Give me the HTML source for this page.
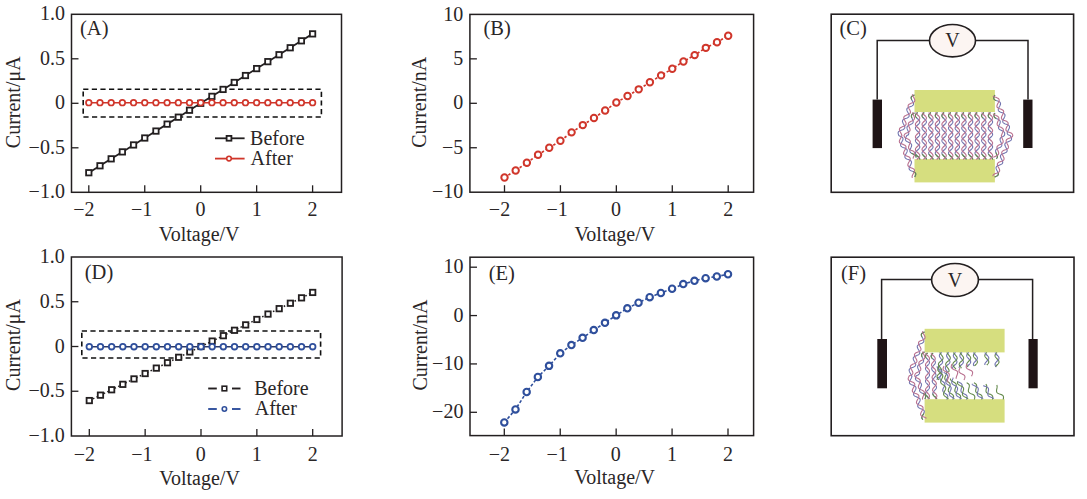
<!DOCTYPE html>
<html><head><meta charset="utf-8"><style>
html,body{margin:0;padding:0;background:#fff;}
svg{display:block;}
text{font-family:"Liberation Serif", serif; fill:#2a2627;}
</style></head><body>
<svg width="1087" height="499" viewBox="0 0 1087 499">
<rect x="71.50" y="14.30" width="270.00" height="178.00" fill="none" stroke="#231f20" stroke-width="1.5"/>
<line x1="88.80" y1="192.30" x2="88.80" y2="185.30" stroke="#231f20" stroke-width="1.3" />
<text x="83.80" y="216.00" text-anchor="middle" font-size="20" >−2</text>
<line x1="144.75" y1="192.30" x2="144.75" y2="185.30" stroke="#231f20" stroke-width="1.3" />
<text x="141.55" y="216.00" text-anchor="middle" font-size="20" >−1</text>
<line x1="200.70" y1="192.30" x2="200.70" y2="185.30" stroke="#231f20" stroke-width="1.3" />
<text x="200.40" y="216.00" text-anchor="middle" font-size="20" >0</text>
<line x1="256.65" y1="192.30" x2="256.65" y2="185.30" stroke="#231f20" stroke-width="1.3" />
<text x="256.65" y="216.00" text-anchor="middle" font-size="20" >1</text>
<line x1="312.60" y1="192.30" x2="312.60" y2="185.30" stroke="#231f20" stroke-width="1.3" />
<text x="312.60" y="216.00" text-anchor="middle" font-size="20" >2</text>
<text x="64.90" y="20.40" text-anchor="end" font-size="20" >1.0</text>
<line x1="71.50" y1="58.80" x2="78.50" y2="58.80" stroke="#231f20" stroke-width="1.3" />
<text x="64.90" y="64.90" text-anchor="end" font-size="20" >0.5</text>
<line x1="71.50" y1="103.30" x2="78.50" y2="103.30" stroke="#231f20" stroke-width="1.3" />
<text x="64.90" y="109.40" text-anchor="end" font-size="20" >0</text>
<line x1="71.50" y1="147.80" x2="78.50" y2="147.80" stroke="#231f20" stroke-width="1.3" />
<text x="64.90" y="153.90" text-anchor="end" font-size="20" >−0.5</text>
<text x="64.90" y="198.40" text-anchor="end" font-size="20" >−1.0</text>
<text x="199.20" y="240.80" text-anchor="middle" font-size="20" >Voltage/V</text>
<text x="0" y="0" transform="translate(19.80,102.30) rotate(-90)" text-anchor="middle" font-size="20">Current/μA</text>
<text x="80.00" y="35.40" text-anchor="start" font-size="20.5" >(A)</text>
<rect x="83.2" y="89.2" width="238.2" height="27.8" fill="none" stroke="#111" stroke-width="1.6" stroke-dasharray="5.2 3.4"/>
<polyline points="88.80,172.72 99.99,165.78 111.18,158.84 122.37,151.89 133.56,144.95 144.75,138.01 155.94,131.07 167.13,124.13 178.32,117.18 189.51,110.24 200.70,103.30 211.89,96.36 223.08,89.42 234.27,82.47 245.46,75.53 256.65,68.59 267.84,61.65 279.03,54.71 290.22,47.76 301.41,40.82 312.60,33.88" fill="none" stroke="#231f20" stroke-width="1.8"/>
<rect x="86.10" y="170.02" width="5.40" height="5.40" fill="#fff" stroke="#231f20" stroke-width="1.8"/>
<rect x="97.29" y="163.08" width="5.40" height="5.40" fill="#fff" stroke="#231f20" stroke-width="1.8"/>
<rect x="108.48" y="156.14" width="5.40" height="5.40" fill="#fff" stroke="#231f20" stroke-width="1.8"/>
<rect x="119.67" y="149.19" width="5.40" height="5.40" fill="#fff" stroke="#231f20" stroke-width="1.8"/>
<rect x="130.86" y="142.25" width="5.40" height="5.40" fill="#fff" stroke="#231f20" stroke-width="1.8"/>
<rect x="142.05" y="135.31" width="5.40" height="5.40" fill="#fff" stroke="#231f20" stroke-width="1.8"/>
<rect x="153.24" y="128.37" width="5.40" height="5.40" fill="#fff" stroke="#231f20" stroke-width="1.8"/>
<rect x="164.43" y="121.43" width="5.40" height="5.40" fill="#fff" stroke="#231f20" stroke-width="1.8"/>
<rect x="175.62" y="114.48" width="5.40" height="5.40" fill="#fff" stroke="#231f20" stroke-width="1.8"/>
<rect x="186.81" y="107.54" width="5.40" height="5.40" fill="#fff" stroke="#231f20" stroke-width="1.8"/>
<rect x="198.00" y="100.60" width="5.40" height="5.40" fill="#fff" stroke="#231f20" stroke-width="1.8"/>
<rect x="209.19" y="93.66" width="5.40" height="5.40" fill="#fff" stroke="#231f20" stroke-width="1.8"/>
<rect x="220.38" y="86.72" width="5.40" height="5.40" fill="#fff" stroke="#231f20" stroke-width="1.8"/>
<rect x="231.57" y="79.77" width="5.40" height="5.40" fill="#fff" stroke="#231f20" stroke-width="1.8"/>
<rect x="242.76" y="72.83" width="5.40" height="5.40" fill="#fff" stroke="#231f20" stroke-width="1.8"/>
<rect x="253.95" y="65.89" width="5.40" height="5.40" fill="#fff" stroke="#231f20" stroke-width="1.8"/>
<rect x="265.14" y="58.95" width="5.40" height="5.40" fill="#fff" stroke="#231f20" stroke-width="1.8"/>
<rect x="276.33" y="52.01" width="5.40" height="5.40" fill="#fff" stroke="#231f20" stroke-width="1.8"/>
<rect x="287.52" y="45.06" width="5.40" height="5.40" fill="#fff" stroke="#231f20" stroke-width="1.8"/>
<rect x="298.71" y="38.12" width="5.40" height="5.40" fill="#fff" stroke="#231f20" stroke-width="1.8"/>
<rect x="309.90" y="31.18" width="5.40" height="5.40" fill="#fff" stroke="#231f20" stroke-width="1.8"/>
<polyline points="88.80,102.68 99.99,102.68 111.18,102.68 122.37,102.68 133.56,102.68 144.75,102.68 155.94,102.68 167.13,102.68 178.32,102.68 189.51,102.68 200.70,102.68 211.89,102.68 223.08,102.68 234.27,102.68 245.46,102.68 256.65,102.68 267.84,102.68 279.03,102.68 290.22,102.68 301.41,102.68 312.60,102.68" fill="none" stroke="#d0362b" stroke-width="1.4"/>
<circle cx="88.80" cy="102.68" r="2.80" fill="#fff" stroke="#d0362b" stroke-width="1.7"/>
<circle cx="99.99" cy="102.68" r="2.80" fill="#fff" stroke="#d0362b" stroke-width="1.7"/>
<circle cx="111.18" cy="102.68" r="2.80" fill="#fff" stroke="#d0362b" stroke-width="1.7"/>
<circle cx="122.37" cy="102.68" r="2.80" fill="#fff" stroke="#d0362b" stroke-width="1.7"/>
<circle cx="133.56" cy="102.68" r="2.80" fill="#fff" stroke="#d0362b" stroke-width="1.7"/>
<circle cx="144.75" cy="102.68" r="2.80" fill="#fff" stroke="#d0362b" stroke-width="1.7"/>
<circle cx="155.94" cy="102.68" r="2.80" fill="#fff" stroke="#d0362b" stroke-width="1.7"/>
<circle cx="167.13" cy="102.68" r="2.80" fill="#fff" stroke="#d0362b" stroke-width="1.7"/>
<circle cx="178.32" cy="102.68" r="2.80" fill="#fff" stroke="#d0362b" stroke-width="1.7"/>
<circle cx="189.51" cy="102.68" r="2.80" fill="#fff" stroke="#d0362b" stroke-width="1.7"/>
<circle cx="200.70" cy="102.68" r="2.80" fill="#fff" stroke="#d0362b" stroke-width="1.7"/>
<circle cx="211.89" cy="102.68" r="2.80" fill="#fff" stroke="#d0362b" stroke-width="1.7"/>
<circle cx="223.08" cy="102.68" r="2.80" fill="#fff" stroke="#d0362b" stroke-width="1.7"/>
<circle cx="234.27" cy="102.68" r="2.80" fill="#fff" stroke="#d0362b" stroke-width="1.7"/>
<circle cx="245.46" cy="102.68" r="2.80" fill="#fff" stroke="#d0362b" stroke-width="1.7"/>
<circle cx="256.65" cy="102.68" r="2.80" fill="#fff" stroke="#d0362b" stroke-width="1.7"/>
<circle cx="267.84" cy="102.68" r="2.80" fill="#fff" stroke="#d0362b" stroke-width="1.7"/>
<circle cx="279.03" cy="102.68" r="2.80" fill="#fff" stroke="#d0362b" stroke-width="1.7"/>
<circle cx="290.22" cy="102.68" r="2.80" fill="#fff" stroke="#d0362b" stroke-width="1.7"/>
<circle cx="301.41" cy="102.68" r="2.80" fill="#fff" stroke="#d0362b" stroke-width="1.7"/>
<circle cx="312.60" cy="102.68" r="2.80" fill="#fff" stroke="#d0362b" stroke-width="1.7"/>
<line x1="215.00" y1="138.30" x2="244.60" y2="138.30" stroke="#231f20" stroke-width="1.8" />
<rect x="226.60" y="135.90" width="4.80" height="4.80" fill="#fff" stroke="#231f20" stroke-width="1.8"/>
<text x="250.10" y="144.50" text-anchor="start" font-size="20" >Before</text>
<line x1="215.00" y1="158.60" x2="244.60" y2="158.60" stroke="#d0362b" stroke-width="1.8" />
<circle cx="229.00" cy="158.60" r="2.30" fill="#fff" stroke="#d0362b" stroke-width="1.6"/>
<text x="250.60" y="164.60" text-anchor="start" font-size="20" >After</text>
<rect x="469.90" y="14.40" width="283.70" height="177.80" fill="none" stroke="#231f20" stroke-width="1.5"/>
<line x1="504.50" y1="192.20" x2="504.50" y2="185.20" stroke="#231f20" stroke-width="1.3" />
<text x="499.50" y="215.90" text-anchor="middle" font-size="20" >−2</text>
<line x1="560.42" y1="192.20" x2="560.42" y2="185.20" stroke="#231f20" stroke-width="1.3" />
<text x="557.22" y="215.90" text-anchor="middle" font-size="20" >−1</text>
<line x1="616.35" y1="192.20" x2="616.35" y2="185.20" stroke="#231f20" stroke-width="1.3" />
<text x="616.05" y="215.90" text-anchor="middle" font-size="20" >0</text>
<line x1="672.28" y1="192.20" x2="672.28" y2="185.20" stroke="#231f20" stroke-width="1.3" />
<text x="672.28" y="215.90" text-anchor="middle" font-size="20" >1</text>
<line x1="728.20" y1="192.20" x2="728.20" y2="185.20" stroke="#231f20" stroke-width="1.3" />
<text x="728.20" y="215.90" text-anchor="middle" font-size="20" >2</text>
<text x="463.30" y="20.50" text-anchor="end" font-size="20" >10</text>
<line x1="469.90" y1="58.85" x2="476.90" y2="58.85" stroke="#231f20" stroke-width="1.3" />
<text x="463.30" y="64.95" text-anchor="end" font-size="20" >5</text>
<line x1="469.90" y1="103.30" x2="476.90" y2="103.30" stroke="#231f20" stroke-width="1.3" />
<text x="463.30" y="109.40" text-anchor="end" font-size="20" >0</text>
<line x1="469.90" y1="147.75" x2="476.90" y2="147.75" stroke="#231f20" stroke-width="1.3" />
<text x="463.30" y="153.85" text-anchor="end" font-size="20" >−5</text>
<text x="463.30" y="198.30" text-anchor="end" font-size="20" >−10</text>
<text x="614.85" y="240.70" text-anchor="middle" font-size="20" >Voltage/V</text>
<text x="0" y="0" transform="translate(426.30,102.30) rotate(-90)" text-anchor="middle" font-size="20">Current/nA</text>
<text x="483.50" y="35.40" text-anchor="start" font-size="20.5" >(B)</text>
<polyline points="504.50,177.53 515.68,170.51 526.87,162.77 538.06,154.77 549.24,147.75 560.42,140.82 571.61,132.37 582.80,125.08 593.98,117.97 605.16,110.50 616.35,102.50 627.54,96.01 638.72,89.34 649.90,82.32 661.09,75.39 672.28,68.81 683.46,61.43 694.65,55.12 705.83,47.83 717.02,42.23 728.20,35.74" fill="none" stroke="#d0362b" stroke-width="1.7" stroke-dasharray="2.5 2"/>
<circle cx="504.50" cy="177.53" r="3.20" fill="#fff" stroke="#d0362b" stroke-width="2.0"/>
<circle cx="515.68" cy="170.51" r="3.20" fill="#fff" stroke="#d0362b" stroke-width="2.0"/>
<circle cx="526.87" cy="162.77" r="3.20" fill="#fff" stroke="#d0362b" stroke-width="2.0"/>
<circle cx="538.06" cy="154.77" r="3.20" fill="#fff" stroke="#d0362b" stroke-width="2.0"/>
<circle cx="549.24" cy="147.75" r="3.20" fill="#fff" stroke="#d0362b" stroke-width="2.0"/>
<circle cx="560.42" cy="140.82" r="3.20" fill="#fff" stroke="#d0362b" stroke-width="2.0"/>
<circle cx="571.61" cy="132.37" r="3.20" fill="#fff" stroke="#d0362b" stroke-width="2.0"/>
<circle cx="582.80" cy="125.08" r="3.20" fill="#fff" stroke="#d0362b" stroke-width="2.0"/>
<circle cx="593.98" cy="117.97" r="3.20" fill="#fff" stroke="#d0362b" stroke-width="2.0"/>
<circle cx="605.16" cy="110.50" r="3.20" fill="#fff" stroke="#d0362b" stroke-width="2.0"/>
<circle cx="616.35" cy="102.50" r="3.20" fill="#fff" stroke="#d0362b" stroke-width="2.0"/>
<circle cx="627.54" cy="96.01" r="3.20" fill="#fff" stroke="#d0362b" stroke-width="2.0"/>
<circle cx="638.72" cy="89.34" r="3.20" fill="#fff" stroke="#d0362b" stroke-width="2.0"/>
<circle cx="649.90" cy="82.32" r="3.20" fill="#fff" stroke="#d0362b" stroke-width="2.0"/>
<circle cx="661.09" cy="75.39" r="3.20" fill="#fff" stroke="#d0362b" stroke-width="2.0"/>
<circle cx="672.28" cy="68.81" r="3.20" fill="#fff" stroke="#d0362b" stroke-width="2.0"/>
<circle cx="683.46" cy="61.43" r="3.20" fill="#fff" stroke="#d0362b" stroke-width="2.0"/>
<circle cx="694.65" cy="55.12" r="3.20" fill="#fff" stroke="#d0362b" stroke-width="2.0"/>
<circle cx="705.83" cy="47.83" r="3.20" fill="#fff" stroke="#d0362b" stroke-width="2.0"/>
<circle cx="717.02" cy="42.23" r="3.20" fill="#fff" stroke="#d0362b" stroke-width="2.0"/>
<circle cx="728.20" cy="35.74" r="3.20" fill="#fff" stroke="#d0362b" stroke-width="2.0"/>
<rect x="71.40" y="257.00" width="270.70" height="179.00" fill="none" stroke="#231f20" stroke-width="1.5"/>
<line x1="89.30" y1="436.00" x2="89.30" y2="429.00" stroke="#231f20" stroke-width="1.3" />
<text x="84.30" y="461.20" text-anchor="middle" font-size="20" >−2</text>
<line x1="145.15" y1="436.00" x2="145.15" y2="429.00" stroke="#231f20" stroke-width="1.3" />
<text x="141.95" y="461.20" text-anchor="middle" font-size="20" >−1</text>
<line x1="201.00" y1="436.00" x2="201.00" y2="429.00" stroke="#231f20" stroke-width="1.3" />
<text x="200.70" y="461.20" text-anchor="middle" font-size="20" >0</text>
<line x1="256.85" y1="436.00" x2="256.85" y2="429.00" stroke="#231f20" stroke-width="1.3" />
<text x="256.85" y="461.20" text-anchor="middle" font-size="20" >1</text>
<line x1="312.70" y1="436.00" x2="312.70" y2="429.00" stroke="#231f20" stroke-width="1.3" />
<text x="312.70" y="461.20" text-anchor="middle" font-size="20" >2</text>
<text x="64.80" y="263.10" text-anchor="end" font-size="20" >1.0</text>
<line x1="71.40" y1="301.75" x2="78.40" y2="301.75" stroke="#231f20" stroke-width="1.3" />
<text x="64.80" y="307.85" text-anchor="end" font-size="20" >0.5</text>
<line x1="71.40" y1="346.50" x2="78.40" y2="346.50" stroke="#231f20" stroke-width="1.3" />
<text x="64.80" y="352.60" text-anchor="end" font-size="20" >0</text>
<line x1="71.40" y1="391.25" x2="78.40" y2="391.25" stroke="#231f20" stroke-width="1.3" />
<text x="64.80" y="397.35" text-anchor="end" font-size="20" >−0.5</text>
<text x="64.80" y="442.10" text-anchor="end" font-size="20" >−1.0</text>
<text x="199.50" y="484.50" text-anchor="middle" font-size="20" >Voltage/V</text>
<text x="0" y="0" transform="translate(19.80,345.00) rotate(-90)" text-anchor="middle" font-size="20">Current/μA</text>
<text x="84.80" y="279.00" text-anchor="start" font-size="20.5" >(D)</text>
<rect x="81.8" y="331" width="238.8" height="27" fill="none" stroke="#111" stroke-width="1.6" stroke-dasharray="5.2 3.4"/>
<polyline points="89.30,400.56 100.47,395.15 111.64,389.75 122.81,384.34 133.98,378.93 145.15,373.53 156.32,368.12 167.49,362.72 178.66,357.31 189.83,351.91 201.00,346.50 212.17,341.09 223.34,335.69 234.51,330.28 245.68,324.88 256.85,319.47 268.02,314.07 279.19,308.66 290.36,303.25 301.53,297.85 312.70,292.44" fill="none" stroke="#231f20" stroke-width="1.5" stroke-dasharray="1.6 2.4"/>
<rect x="86.60" y="397.86" width="5.40" height="5.40" fill="#fff" stroke="#231f20" stroke-width="1.8"/>
<rect x="97.77" y="392.45" width="5.40" height="5.40" fill="#fff" stroke="#231f20" stroke-width="1.8"/>
<rect x="108.94" y="387.05" width="5.40" height="5.40" fill="#fff" stroke="#231f20" stroke-width="1.8"/>
<rect x="120.11" y="381.64" width="5.40" height="5.40" fill="#fff" stroke="#231f20" stroke-width="1.8"/>
<rect x="131.28" y="376.23" width="5.40" height="5.40" fill="#fff" stroke="#231f20" stroke-width="1.8"/>
<rect x="142.45" y="370.83" width="5.40" height="5.40" fill="#fff" stroke="#231f20" stroke-width="1.8"/>
<rect x="153.62" y="365.42" width="5.40" height="5.40" fill="#fff" stroke="#231f20" stroke-width="1.8"/>
<rect x="164.79" y="360.02" width="5.40" height="5.40" fill="#fff" stroke="#231f20" stroke-width="1.8"/>
<rect x="175.96" y="354.61" width="5.40" height="5.40" fill="#fff" stroke="#231f20" stroke-width="1.8"/>
<rect x="187.13" y="349.21" width="5.40" height="5.40" fill="#fff" stroke="#231f20" stroke-width="1.8"/>
<rect x="198.30" y="343.80" width="5.40" height="5.40" fill="#fff" stroke="#231f20" stroke-width="1.8"/>
<rect x="209.47" y="338.39" width="5.40" height="5.40" fill="#fff" stroke="#231f20" stroke-width="1.8"/>
<rect x="220.64" y="332.99" width="5.40" height="5.40" fill="#fff" stroke="#231f20" stroke-width="1.8"/>
<rect x="231.81" y="327.58" width="5.40" height="5.40" fill="#fff" stroke="#231f20" stroke-width="1.8"/>
<rect x="242.98" y="322.18" width="5.40" height="5.40" fill="#fff" stroke="#231f20" stroke-width="1.8"/>
<rect x="254.15" y="316.77" width="5.40" height="5.40" fill="#fff" stroke="#231f20" stroke-width="1.8"/>
<rect x="265.32" y="311.37" width="5.40" height="5.40" fill="#fff" stroke="#231f20" stroke-width="1.8"/>
<rect x="276.49" y="305.96" width="5.40" height="5.40" fill="#fff" stroke="#231f20" stroke-width="1.8"/>
<rect x="287.66" y="300.55" width="5.40" height="5.40" fill="#fff" stroke="#231f20" stroke-width="1.8"/>
<rect x="298.83" y="295.15" width="5.40" height="5.40" fill="#fff" stroke="#231f20" stroke-width="1.8"/>
<rect x="310.00" y="289.74" width="5.40" height="5.40" fill="#fff" stroke="#231f20" stroke-width="1.8"/>
<polyline points="89.30,346.68 100.47,346.68 111.64,346.68 122.81,346.68 133.98,346.68 145.15,346.68 156.32,346.68 167.49,346.68 178.66,346.68 189.83,346.68 201.00,346.68 212.17,346.68 223.34,346.68 234.51,346.68 245.68,346.68 256.85,346.68 268.02,346.68 279.19,346.68 290.36,346.68 301.53,346.68 312.70,346.68" fill="none" stroke="#2d3a66" stroke-width="1.5"/>
<circle cx="89.30" cy="346.68" r="2.80" fill="#fff" stroke="#2f4f9c" stroke-width="1.8"/>
<circle cx="100.47" cy="346.68" r="2.80" fill="#fff" stroke="#2f4f9c" stroke-width="1.8"/>
<circle cx="111.64" cy="346.68" r="2.80" fill="#fff" stroke="#2f4f9c" stroke-width="1.8"/>
<circle cx="122.81" cy="346.68" r="2.80" fill="#fff" stroke="#2f4f9c" stroke-width="1.8"/>
<circle cx="133.98" cy="346.68" r="2.80" fill="#fff" stroke="#2f4f9c" stroke-width="1.8"/>
<circle cx="145.15" cy="346.68" r="2.80" fill="#fff" stroke="#2f4f9c" stroke-width="1.8"/>
<circle cx="156.32" cy="346.68" r="2.80" fill="#fff" stroke="#2f4f9c" stroke-width="1.8"/>
<circle cx="167.49" cy="346.68" r="2.80" fill="#fff" stroke="#2f4f9c" stroke-width="1.8"/>
<circle cx="178.66" cy="346.68" r="2.80" fill="#fff" stroke="#2f4f9c" stroke-width="1.8"/>
<circle cx="189.83" cy="346.68" r="2.80" fill="#fff" stroke="#2f4f9c" stroke-width="1.8"/>
<circle cx="201.00" cy="346.68" r="2.80" fill="#fff" stroke="#2f4f9c" stroke-width="1.8"/>
<circle cx="212.17" cy="346.68" r="2.80" fill="#fff" stroke="#2f4f9c" stroke-width="1.8"/>
<circle cx="223.34" cy="346.68" r="2.80" fill="#fff" stroke="#2f4f9c" stroke-width="1.8"/>
<circle cx="234.51" cy="346.68" r="2.80" fill="#fff" stroke="#2f4f9c" stroke-width="1.8"/>
<circle cx="245.68" cy="346.68" r="2.80" fill="#fff" stroke="#2f4f9c" stroke-width="1.8"/>
<circle cx="256.85" cy="346.68" r="2.80" fill="#fff" stroke="#2f4f9c" stroke-width="1.8"/>
<circle cx="268.02" cy="346.68" r="2.80" fill="#fff" stroke="#2f4f9c" stroke-width="1.8"/>
<circle cx="279.19" cy="346.68" r="2.80" fill="#fff" stroke="#2f4f9c" stroke-width="1.8"/>
<circle cx="290.36" cy="346.68" r="2.80" fill="#fff" stroke="#2f4f9c" stroke-width="1.8"/>
<circle cx="301.53" cy="346.68" r="2.80" fill="#fff" stroke="#2f4f9c" stroke-width="1.8"/>
<circle cx="312.70" cy="346.68" r="2.80" fill="#fff" stroke="#2f4f9c" stroke-width="1.8"/>
<line x1="208.20" y1="388.50" x2="216.80" y2="388.50" stroke="#231f20" stroke-width="1.9" />
<line x1="232.00" y1="388.50" x2="240.50" y2="388.50" stroke="#231f20" stroke-width="1.9" />
<rect x="222.10" y="386.20" width="4.60" height="4.60" fill="#fff" stroke="#231f20" stroke-width="1.6"/>
<text x="254.20" y="394.60" text-anchor="start" font-size="20" >Before</text>
<line x1="208.20" y1="409.00" x2="216.80" y2="409.00" stroke="#2f4f9c" stroke-width="1.9" />
<line x1="232.00" y1="409.00" x2="240.50" y2="409.00" stroke="#2f4f9c" stroke-width="1.9" />
<circle cx="224.40" cy="409.00" r="2.20" fill="#fff" stroke="#2f4f9c" stroke-width="1.6"/>
<text x="254.70" y="414.50" text-anchor="start" font-size="20" >After</text>
<rect x="470.00" y="257.20" width="283.60" height="178.40" fill="none" stroke="#231f20" stroke-width="1.5"/>
<line x1="504.30" y1="435.60" x2="504.30" y2="428.60" stroke="#231f20" stroke-width="1.3" />
<text x="499.30" y="460.80" text-anchor="middle" font-size="20" >−2</text>
<line x1="560.23" y1="435.60" x2="560.23" y2="428.60" stroke="#231f20" stroke-width="1.3" />
<text x="557.02" y="460.80" text-anchor="middle" font-size="20" >−1</text>
<line x1="616.15" y1="435.60" x2="616.15" y2="428.60" stroke="#231f20" stroke-width="1.3" />
<text x="615.85" y="460.80" text-anchor="middle" font-size="20" >0</text>
<line x1="672.08" y1="435.60" x2="672.08" y2="428.60" stroke="#231f20" stroke-width="1.3" />
<text x="672.08" y="460.80" text-anchor="middle" font-size="20" >1</text>
<line x1="728.00" y1="435.60" x2="728.00" y2="428.60" stroke="#231f20" stroke-width="1.3" />
<text x="728.00" y="460.80" text-anchor="middle" font-size="20" >2</text>
<line x1="470.00" y1="267.20" x2="477.00" y2="267.20" stroke="#231f20" stroke-width="1.3" />
<text x="463.40" y="273.30" text-anchor="end" font-size="20" >10</text>
<line x1="470.00" y1="315.57" x2="477.00" y2="315.57" stroke="#231f20" stroke-width="1.3" />
<text x="463.40" y="321.67" text-anchor="end" font-size="20" >0</text>
<line x1="470.00" y1="363.93" x2="477.00" y2="363.93" stroke="#231f20" stroke-width="1.3" />
<text x="463.40" y="370.03" text-anchor="end" font-size="20" >−10</text>
<line x1="470.00" y1="412.30" x2="477.00" y2="412.30" stroke="#231f20" stroke-width="1.3" />
<text x="463.40" y="418.40" text-anchor="end" font-size="20" >−20</text>
<text x="614.65" y="484.10" text-anchor="middle" font-size="20" >Voltage/V</text>
<text x="0" y="0" transform="translate(426.80,345.00) rotate(-90)" text-anchor="middle" font-size="20">Current/nA</text>
<text x="488.70" y="280.00" text-anchor="start" font-size="20.5" >(E)</text>
<polyline points="504.30,422.46 515.49,409.40 526.67,391.99 537.86,376.99 549.04,365.87 560.23,353.29 571.41,345.07 582.60,337.82 593.78,330.08 604.97,322.82 616.15,315.37 627.34,308.36 638.52,302.75 649.71,297.19 660.89,292.98 672.08,288.77 683.26,284.08 694.45,280.79 705.63,278.18 716.82,276.49 728.00,274.26" fill="none" stroke="#2f4f9c" stroke-width="1.6" stroke-dasharray="3 2"/>
<circle cx="504.30" cy="422.46" r="3.20" fill="#fff" stroke="#2f4f9c" stroke-width="2.1"/>
<circle cx="515.49" cy="409.40" r="3.20" fill="#fff" stroke="#2f4f9c" stroke-width="2.1"/>
<circle cx="526.67" cy="391.99" r="3.20" fill="#fff" stroke="#2f4f9c" stroke-width="2.1"/>
<circle cx="537.86" cy="376.99" r="3.20" fill="#fff" stroke="#2f4f9c" stroke-width="2.1"/>
<circle cx="549.04" cy="365.87" r="3.20" fill="#fff" stroke="#2f4f9c" stroke-width="2.1"/>
<circle cx="560.23" cy="353.29" r="3.20" fill="#fff" stroke="#2f4f9c" stroke-width="2.1"/>
<circle cx="571.41" cy="345.07" r="3.20" fill="#fff" stroke="#2f4f9c" stroke-width="2.1"/>
<circle cx="582.60" cy="337.82" r="3.20" fill="#fff" stroke="#2f4f9c" stroke-width="2.1"/>
<circle cx="593.78" cy="330.08" r="3.20" fill="#fff" stroke="#2f4f9c" stroke-width="2.1"/>
<circle cx="604.97" cy="322.82" r="3.20" fill="#fff" stroke="#2f4f9c" stroke-width="2.1"/>
<circle cx="616.15" cy="315.37" r="3.20" fill="#fff" stroke="#2f4f9c" stroke-width="2.1"/>
<circle cx="627.34" cy="308.36" r="3.20" fill="#fff" stroke="#2f4f9c" stroke-width="2.1"/>
<circle cx="638.52" cy="302.75" r="3.20" fill="#fff" stroke="#2f4f9c" stroke-width="2.1"/>
<circle cx="649.71" cy="297.19" r="3.20" fill="#fff" stroke="#2f4f9c" stroke-width="2.1"/>
<circle cx="660.89" cy="292.98" r="3.20" fill="#fff" stroke="#2f4f9c" stroke-width="2.1"/>
<circle cx="672.08" cy="288.77" r="3.20" fill="#fff" stroke="#2f4f9c" stroke-width="2.1"/>
<circle cx="683.26" cy="284.08" r="3.20" fill="#fff" stroke="#2f4f9c" stroke-width="2.1"/>
<circle cx="694.45" cy="280.79" r="3.20" fill="#fff" stroke="#2f4f9c" stroke-width="2.1"/>
<circle cx="705.63" cy="278.18" r="3.20" fill="#fff" stroke="#2f4f9c" stroke-width="2.1"/>
<circle cx="716.82" cy="276.49" r="3.20" fill="#fff" stroke="#2f4f9c" stroke-width="2.1"/>
<circle cx="728.00" cy="274.26" r="3.20" fill="#fff" stroke="#2f4f9c" stroke-width="2.1"/>
<rect x="831.20" y="14.20" width="242.40" height="178.10" fill="none" stroke="#231f20" stroke-width="1.6"/>
<text x="839.50" y="35.20" text-anchor="start" font-size="20.5" >(C)</text>
<path d="M877.20,99.60 V40.50 H1028.00 V99.60" fill="none" stroke="#231f20" stroke-width="1.5"/>
<ellipse cx="952.50" cy="40.70" rx="23.00" ry="16.20" fill="#fcf5f2" stroke="#231f20" stroke-width="1.6"/>
<text x="952.50" y="47.40" text-anchor="middle" font-size="20" >V</text>
<rect x="872.60" y="99.60" width="9.40" height="48.50" fill="#1f1416"/>
<rect x="1023.20" y="99.60" width="9.30" height="48.40" fill="#1f1416"/>
<rect x="914.5" y="90" width="80.4" height="22" fill="#d6de7f"/>
<rect x="914.5" y="159.1" width="80.4" height="23.3" fill="#d6de7f"/>
<path d="M917.60,112.50 L917.05,113.00 L916.54,113.50 L916.09,114.00 L915.74,114.50 L915.51,115.00 L915.40,115.50 L915.44,116.00 L915.61,116.50 L915.90,117.00 L916.31,117.50 L916.79,118.00 L917.32,118.50 L917.88,119.00 L918.41,119.50 L918.89,120.00 L919.30,120.50 L919.59,121.00 L919.76,121.50 L919.80,122.00 L919.69,122.50 L919.46,123.00 L919.11,123.50 L918.66,124.00 L918.15,124.50 L917.60,125.00 L917.05,125.50 L916.54,126.00 L916.09,126.50 L915.74,127.00 L915.51,127.50 L915.40,128.00 L915.44,128.50 L915.61,129.00 L915.90,129.50 L916.31,130.00 L916.79,130.50 L917.32,131.00 L917.88,131.50 L918.41,132.00 L918.89,132.50 L919.30,133.00 L919.59,133.50 L919.76,134.00 L919.80,134.50 L919.69,135.00 L919.46,135.50 L919.11,136.00 L918.66,136.50 L918.15,137.00 L917.60,137.50 L917.05,138.00 L916.54,138.50 L916.09,139.00 L915.74,139.50 L915.51,140.00 L915.40,140.50 L915.44,141.00 L915.61,141.50 L915.90,142.00 L916.31,142.50 L916.79,143.00 L917.32,143.50 L917.88,144.00 L918.41,144.50 L918.89,145.00 L919.30,145.50 L919.59,146.00 L919.76,146.50 L919.80,147.00 L919.69,147.50 L919.46,148.00 L919.11,148.50 L918.66,149.00 L918.15,149.50 L917.60,150.00 L917.05,150.50 L916.54,151.00 L916.09,151.50 L915.74,152.00 L915.51,152.50 L915.40,153.00 L915.44,153.50 L915.61,154.00 L915.90,154.50 L916.31,155.00 L916.79,155.50 L917.32,156.00 L917.88,156.50 L918.41,157.00 L918.89,157.50 L919.30,158.00 L919.59,158.50 L919.76,159.00 L919.80,159.50" fill="none" stroke="#7275b0" stroke-width="1.1"/>
<path d="M917.60,112.50 L917.05,113.00 L916.54,113.50 L916.09,114.00 L915.74,114.50 L915.51,115.00 L915.40,115.50 L915.44,116.00 L915.61,116.50 L915.90,117.00 L916.31,117.50 L916.79,118.00" fill="none" stroke="#648a4c" stroke-width="1.1"/>
<path d="M915.61,154.00 L915.90,154.50 L916.31,155.00 L916.79,155.50 L917.32,156.00 L917.88,156.50 L918.41,157.00 L918.89,157.50 L919.30,158.00 L919.59,158.50 L919.76,159.00 L919.80,159.50" fill="none" stroke="#648a4c" stroke-width="1.1"/>
<path d="M915.51,112.50 L915.74,113.00 L916.09,113.50 L916.54,114.00 L917.05,114.50 L917.60,115.00 L918.15,115.50 L918.66,116.00 L919.11,116.50 L919.46,117.00 L919.69,117.50 L919.80,118.00 L919.76,118.50 L919.59,119.00 L919.30,119.50 L918.89,120.00 L918.41,120.50 L917.88,121.00 L917.32,121.50 L916.79,122.00 L916.31,122.50 L915.90,123.00 L915.61,123.50 L915.44,124.00 L915.40,124.50 L915.51,125.00 L915.74,125.50 L916.09,126.00 L916.54,126.50 L917.05,127.00 L917.60,127.50 L918.15,128.00 L918.66,128.50 L919.11,129.00 L919.46,129.50 L919.69,130.00 L919.80,130.50 L919.76,131.00 L919.59,131.50 L919.30,132.00 L918.89,132.50 L918.41,133.00 L917.88,133.50 L917.32,134.00 L916.79,134.50 L916.31,135.00 L915.90,135.50 L915.61,136.00 L915.44,136.50 L915.40,137.00 L915.51,137.50 L915.74,138.00 L916.09,138.50 L916.54,139.00 L917.05,139.50 L917.60,140.00 L918.15,140.50 L918.66,141.00 L919.11,141.50 L919.46,142.00 L919.69,142.50 L919.80,143.00 L919.76,143.50 L919.59,144.00 L919.30,144.50 L918.89,145.00 L918.41,145.50 L917.88,146.00 L917.32,146.50 L916.79,147.00 L916.31,147.50 L915.90,148.00 L915.61,148.50 L915.44,149.00 L915.40,149.50 L915.51,150.00 L915.74,150.50 L916.09,151.00 L916.54,151.50 L917.05,152.00 L917.60,152.50 L918.15,153.00 L918.66,153.50 L919.11,154.00 L919.46,154.50 L919.69,155.00 L919.80,155.50 L919.76,156.00 L919.59,156.50 L919.30,157.00 L918.89,157.50 L918.41,158.00 L917.88,158.50 L917.32,159.00 L916.79,159.50" fill="none" stroke="#b9708f" stroke-width="1.1"/>
<path d="M924.22,112.50 L923.67,113.00 L923.16,113.50 L922.71,114.00 L922.36,114.50 L922.13,115.00 L922.02,115.50 L922.06,116.00 L922.23,116.50 L922.52,117.00 L922.93,117.50 L923.41,118.00 L923.94,118.50 L924.50,119.00 L925.03,119.50 L925.51,120.00 L925.92,120.50 L926.21,121.00 L926.38,121.50 L926.42,122.00 L926.31,122.50 L926.08,123.00 L925.73,123.50 L925.28,124.00 L924.77,124.50 L924.22,125.00 L923.67,125.50 L923.16,126.00 L922.71,126.50 L922.36,127.00 L922.13,127.50 L922.02,128.00 L922.06,128.50 L922.23,129.00 L922.52,129.50 L922.93,130.00 L923.41,130.50 L923.94,131.00 L924.50,131.50 L925.03,132.00 L925.51,132.50 L925.92,133.00 L926.21,133.50 L926.38,134.00 L926.42,134.50 L926.31,135.00 L926.08,135.50 L925.73,136.00 L925.28,136.50 L924.77,137.00 L924.22,137.50 L923.67,138.00 L923.16,138.50 L922.71,139.00 L922.36,139.50 L922.13,140.00 L922.02,140.50 L922.06,141.00 L922.23,141.50 L922.52,142.00 L922.93,142.50 L923.41,143.00 L923.94,143.50 L924.50,144.00 L925.03,144.50 L925.51,145.00 L925.92,145.50 L926.21,146.00 L926.38,146.50 L926.42,147.00 L926.31,147.50 L926.08,148.00 L925.73,148.50 L925.28,149.00 L924.77,149.50 L924.22,150.00 L923.67,150.50 L923.16,151.00 L922.71,151.50 L922.36,152.00 L922.13,152.50 L922.02,153.00 L922.06,153.50 L922.23,154.00 L922.52,154.50 L922.93,155.00 L923.41,155.50 L923.94,156.00 L924.50,156.50 L925.03,157.00 L925.51,157.50 L925.92,158.00 L926.21,158.50 L926.38,159.00 L926.42,159.50" fill="none" stroke="#7275b0" stroke-width="1.1"/>
<path d="M924.22,112.50 L923.67,113.00 L923.16,113.50 L922.71,114.00 L922.36,114.50 L922.13,115.00 L922.02,115.50 L922.06,116.00 L922.23,116.50 L922.52,117.00 L922.93,117.50 L923.41,118.00" fill="none" stroke="#648a4c" stroke-width="1.1"/>
<path d="M922.23,154.00 L922.52,154.50 L922.93,155.00 L923.41,155.50 L923.94,156.00 L924.50,156.50 L925.03,157.00 L925.51,157.50 L925.92,158.00 L926.21,158.50 L926.38,159.00 L926.42,159.50" fill="none" stroke="#648a4c" stroke-width="1.1"/>
<path d="M922.13,112.50 L922.36,113.00 L922.71,113.50 L923.16,114.00 L923.67,114.50 L924.22,115.00 L924.77,115.50 L925.28,116.00 L925.73,116.50 L926.08,117.00 L926.31,117.50 L926.42,118.00 L926.38,118.50 L926.21,119.00 L925.92,119.50 L925.51,120.00 L925.03,120.50 L924.50,121.00 L923.94,121.50 L923.41,122.00 L922.93,122.50 L922.52,123.00 L922.23,123.50 L922.06,124.00 L922.02,124.50 L922.13,125.00 L922.36,125.50 L922.71,126.00 L923.16,126.50 L923.67,127.00 L924.22,127.50 L924.77,128.00 L925.28,128.50 L925.73,129.00 L926.08,129.50 L926.31,130.00 L926.42,130.50 L926.38,131.00 L926.21,131.50 L925.92,132.00 L925.51,132.50 L925.03,133.00 L924.50,133.50 L923.94,134.00 L923.41,134.50 L922.93,135.00 L922.52,135.50 L922.23,136.00 L922.06,136.50 L922.02,137.00 L922.13,137.50 L922.36,138.00 L922.71,138.50 L923.16,139.00 L923.67,139.50 L924.22,140.00 L924.77,140.50 L925.28,141.00 L925.73,141.50 L926.08,142.00 L926.31,142.50 L926.42,143.00 L926.38,143.50 L926.21,144.00 L925.92,144.50 L925.51,145.00 L925.03,145.50 L924.50,146.00 L923.94,146.50 L923.41,147.00 L922.93,147.50 L922.52,148.00 L922.23,148.50 L922.06,149.00 L922.02,149.50 L922.13,150.00 L922.36,150.50 L922.71,151.00 L923.16,151.50 L923.67,152.00 L924.22,152.50 L924.77,153.00 L925.28,153.50 L925.73,154.00 L926.08,154.50 L926.31,155.00 L926.42,155.50 L926.38,156.00 L926.21,156.50 L925.92,157.00 L925.51,157.50 L925.03,158.00 L924.50,158.50 L923.94,159.00 L923.41,159.50" fill="none" stroke="#b9708f" stroke-width="1.1"/>
<path d="M930.84,112.50 L930.29,113.00 L929.78,113.50 L929.33,114.00 L928.98,114.50 L928.75,115.00 L928.64,115.50 L928.68,116.00 L928.85,116.50 L929.14,117.00 L929.55,117.50 L930.03,118.00 L930.56,118.50 L931.12,119.00 L931.65,119.50 L932.13,120.00 L932.54,120.50 L932.83,121.00 L933.00,121.50 L933.04,122.00 L932.93,122.50 L932.70,123.00 L932.35,123.50 L931.90,124.00 L931.39,124.50 L930.84,125.00 L930.29,125.50 L929.78,126.00 L929.33,126.50 L928.98,127.00 L928.75,127.50 L928.64,128.00 L928.68,128.50 L928.85,129.00 L929.14,129.50 L929.55,130.00 L930.03,130.50 L930.56,131.00 L931.12,131.50 L931.65,132.00 L932.13,132.50 L932.54,133.00 L932.83,133.50 L933.00,134.00 L933.04,134.50 L932.93,135.00 L932.70,135.50 L932.35,136.00 L931.90,136.50 L931.39,137.00 L930.84,137.50 L930.29,138.00 L929.78,138.50 L929.33,139.00 L928.98,139.50 L928.75,140.00 L928.64,140.50 L928.68,141.00 L928.85,141.50 L929.14,142.00 L929.55,142.50 L930.03,143.00 L930.56,143.50 L931.12,144.00 L931.65,144.50 L932.13,145.00 L932.54,145.50 L932.83,146.00 L933.00,146.50 L933.04,147.00 L932.93,147.50 L932.70,148.00 L932.35,148.50 L931.90,149.00 L931.39,149.50 L930.84,150.00 L930.29,150.50 L929.78,151.00 L929.33,151.50 L928.98,152.00 L928.75,152.50 L928.64,153.00 L928.68,153.50 L928.85,154.00 L929.14,154.50 L929.55,155.00 L930.03,155.50 L930.56,156.00 L931.12,156.50 L931.65,157.00 L932.13,157.50 L932.54,158.00 L932.83,158.50 L933.00,159.00 L933.04,159.50" fill="none" stroke="#7275b0" stroke-width="1.1"/>
<path d="M930.84,112.50 L930.29,113.00 L929.78,113.50 L929.33,114.00 L928.98,114.50 L928.75,115.00 L928.64,115.50 L928.68,116.00 L928.85,116.50 L929.14,117.00 L929.55,117.50 L930.03,118.00" fill="none" stroke="#648a4c" stroke-width="1.1"/>
<path d="M928.85,154.00 L929.14,154.50 L929.55,155.00 L930.03,155.50 L930.56,156.00 L931.12,156.50 L931.65,157.00 L932.13,157.50 L932.54,158.00 L932.83,158.50 L933.00,159.00 L933.04,159.50" fill="none" stroke="#648a4c" stroke-width="1.1"/>
<path d="M928.75,112.50 L928.98,113.00 L929.33,113.50 L929.78,114.00 L930.29,114.50 L930.84,115.00 L931.39,115.50 L931.90,116.00 L932.35,116.50 L932.70,117.00 L932.93,117.50 L933.04,118.00 L933.00,118.50 L932.83,119.00 L932.54,119.50 L932.13,120.00 L931.65,120.50 L931.12,121.00 L930.56,121.50 L930.03,122.00 L929.55,122.50 L929.14,123.00 L928.85,123.50 L928.68,124.00 L928.64,124.50 L928.75,125.00 L928.98,125.50 L929.33,126.00 L929.78,126.50 L930.29,127.00 L930.84,127.50 L931.39,128.00 L931.90,128.50 L932.35,129.00 L932.70,129.50 L932.93,130.00 L933.04,130.50 L933.00,131.00 L932.83,131.50 L932.54,132.00 L932.13,132.50 L931.65,133.00 L931.12,133.50 L930.56,134.00 L930.03,134.50 L929.55,135.00 L929.14,135.50 L928.85,136.00 L928.68,136.50 L928.64,137.00 L928.75,137.50 L928.98,138.00 L929.33,138.50 L929.78,139.00 L930.29,139.50 L930.84,140.00 L931.39,140.50 L931.90,141.00 L932.35,141.50 L932.70,142.00 L932.93,142.50 L933.04,143.00 L933.00,143.50 L932.83,144.00 L932.54,144.50 L932.13,145.00 L931.65,145.50 L931.12,146.00 L930.56,146.50 L930.03,147.00 L929.55,147.50 L929.14,148.00 L928.85,148.50 L928.68,149.00 L928.64,149.50 L928.75,150.00 L928.98,150.50 L929.33,151.00 L929.78,151.50 L930.29,152.00 L930.84,152.50 L931.39,153.00 L931.90,153.50 L932.35,154.00 L932.70,154.50 L932.93,155.00 L933.04,155.50 L933.00,156.00 L932.83,156.50 L932.54,157.00 L932.13,157.50 L931.65,158.00 L931.12,158.50 L930.56,159.00 L930.03,159.50" fill="none" stroke="#b9708f" stroke-width="1.1"/>
<path d="M937.46,112.50 L936.91,113.00 L936.40,113.50 L935.95,114.00 L935.60,114.50 L935.37,115.00 L935.26,115.50 L935.30,116.00 L935.47,116.50 L935.76,117.00 L936.17,117.50 L936.65,118.00 L937.18,118.50 L937.74,119.00 L938.27,119.50 L938.75,120.00 L939.16,120.50 L939.45,121.00 L939.62,121.50 L939.66,122.00 L939.55,122.50 L939.32,123.00 L938.97,123.50 L938.52,124.00 L938.01,124.50 L937.46,125.00 L936.91,125.50 L936.40,126.00 L935.95,126.50 L935.60,127.00 L935.37,127.50 L935.26,128.00 L935.30,128.50 L935.47,129.00 L935.76,129.50 L936.17,130.00 L936.65,130.50 L937.18,131.00 L937.74,131.50 L938.27,132.00 L938.75,132.50 L939.16,133.00 L939.45,133.50 L939.62,134.00 L939.66,134.50 L939.55,135.00 L939.32,135.50 L938.97,136.00 L938.52,136.50 L938.01,137.00 L937.46,137.50 L936.91,138.00 L936.40,138.50 L935.95,139.00 L935.60,139.50 L935.37,140.00 L935.26,140.50 L935.30,141.00 L935.47,141.50 L935.76,142.00 L936.17,142.50 L936.65,143.00 L937.18,143.50 L937.74,144.00 L938.27,144.50 L938.75,145.00 L939.16,145.50 L939.45,146.00 L939.62,146.50 L939.66,147.00 L939.55,147.50 L939.32,148.00 L938.97,148.50 L938.52,149.00 L938.01,149.50 L937.46,150.00 L936.91,150.50 L936.40,151.00 L935.95,151.50 L935.60,152.00 L935.37,152.50 L935.26,153.00 L935.30,153.50 L935.47,154.00 L935.76,154.50 L936.17,155.00 L936.65,155.50 L937.18,156.00 L937.74,156.50 L938.27,157.00 L938.75,157.50 L939.16,158.00 L939.45,158.50 L939.62,159.00 L939.66,159.50" fill="none" stroke="#7275b0" stroke-width="1.1"/>
<path d="M937.46,112.50 L936.91,113.00 L936.40,113.50 L935.95,114.00 L935.60,114.50 L935.37,115.00 L935.26,115.50 L935.30,116.00 L935.47,116.50 L935.76,117.00 L936.17,117.50 L936.65,118.00" fill="none" stroke="#648a4c" stroke-width="1.1"/>
<path d="M935.47,154.00 L935.76,154.50 L936.17,155.00 L936.65,155.50 L937.18,156.00 L937.74,156.50 L938.27,157.00 L938.75,157.50 L939.16,158.00 L939.45,158.50 L939.62,159.00 L939.66,159.50" fill="none" stroke="#648a4c" stroke-width="1.1"/>
<path d="M935.37,112.50 L935.60,113.00 L935.95,113.50 L936.40,114.00 L936.91,114.50 L937.46,115.00 L938.01,115.50 L938.52,116.00 L938.97,116.50 L939.32,117.00 L939.55,117.50 L939.66,118.00 L939.62,118.50 L939.45,119.00 L939.16,119.50 L938.75,120.00 L938.27,120.50 L937.74,121.00 L937.18,121.50 L936.65,122.00 L936.17,122.50 L935.76,123.00 L935.47,123.50 L935.30,124.00 L935.26,124.50 L935.37,125.00 L935.60,125.50 L935.95,126.00 L936.40,126.50 L936.91,127.00 L937.46,127.50 L938.01,128.00 L938.52,128.50 L938.97,129.00 L939.32,129.50 L939.55,130.00 L939.66,130.50 L939.62,131.00 L939.45,131.50 L939.16,132.00 L938.75,132.50 L938.27,133.00 L937.74,133.50 L937.18,134.00 L936.65,134.50 L936.17,135.00 L935.76,135.50 L935.47,136.00 L935.30,136.50 L935.26,137.00 L935.37,137.50 L935.60,138.00 L935.95,138.50 L936.40,139.00 L936.91,139.50 L937.46,140.00 L938.01,140.50 L938.52,141.00 L938.97,141.50 L939.32,142.00 L939.55,142.50 L939.66,143.00 L939.62,143.50 L939.45,144.00 L939.16,144.50 L938.75,145.00 L938.27,145.50 L937.74,146.00 L937.18,146.50 L936.65,147.00 L936.17,147.50 L935.76,148.00 L935.47,148.50 L935.30,149.00 L935.26,149.50 L935.37,150.00 L935.60,150.50 L935.95,151.00 L936.40,151.50 L936.91,152.00 L937.46,152.50 L938.01,153.00 L938.52,153.50 L938.97,154.00 L939.32,154.50 L939.55,155.00 L939.66,155.50 L939.62,156.00 L939.45,156.50 L939.16,157.00 L938.75,157.50 L938.27,158.00 L937.74,158.50 L937.18,159.00 L936.65,159.50" fill="none" stroke="#b9708f" stroke-width="1.1"/>
<path d="M944.08,112.50 L943.53,113.00 L943.02,113.50 L942.57,114.00 L942.22,114.50 L941.99,115.00 L941.88,115.50 L941.92,116.00 L942.09,116.50 L942.38,117.00 L942.79,117.50 L943.27,118.00 L943.80,118.50 L944.36,119.00 L944.89,119.50 L945.37,120.00 L945.78,120.50 L946.07,121.00 L946.24,121.50 L946.28,122.00 L946.17,122.50 L945.94,123.00 L945.59,123.50 L945.14,124.00 L944.63,124.50 L944.08,125.00 L943.53,125.50 L943.02,126.00 L942.57,126.50 L942.22,127.00 L941.99,127.50 L941.88,128.00 L941.92,128.50 L942.09,129.00 L942.38,129.50 L942.79,130.00 L943.27,130.50 L943.80,131.00 L944.36,131.50 L944.89,132.00 L945.37,132.50 L945.78,133.00 L946.07,133.50 L946.24,134.00 L946.28,134.50 L946.17,135.00 L945.94,135.50 L945.59,136.00 L945.14,136.50 L944.63,137.00 L944.08,137.50 L943.53,138.00 L943.02,138.50 L942.57,139.00 L942.22,139.50 L941.99,140.00 L941.88,140.50 L941.92,141.00 L942.09,141.50 L942.38,142.00 L942.79,142.50 L943.27,143.00 L943.80,143.50 L944.36,144.00 L944.89,144.50 L945.37,145.00 L945.78,145.50 L946.07,146.00 L946.24,146.50 L946.28,147.00 L946.17,147.50 L945.94,148.00 L945.59,148.50 L945.14,149.00 L944.63,149.50 L944.08,150.00 L943.53,150.50 L943.02,151.00 L942.57,151.50 L942.22,152.00 L941.99,152.50 L941.88,153.00 L941.92,153.50 L942.09,154.00 L942.38,154.50 L942.79,155.00 L943.27,155.50 L943.80,156.00 L944.36,156.50 L944.89,157.00 L945.37,157.50 L945.78,158.00 L946.07,158.50 L946.24,159.00 L946.28,159.50" fill="none" stroke="#7275b0" stroke-width="1.1"/>
<path d="M944.08,112.50 L943.53,113.00 L943.02,113.50 L942.57,114.00 L942.22,114.50 L941.99,115.00 L941.88,115.50 L941.92,116.00 L942.09,116.50 L942.38,117.00 L942.79,117.50 L943.27,118.00" fill="none" stroke="#648a4c" stroke-width="1.1"/>
<path d="M942.09,154.00 L942.38,154.50 L942.79,155.00 L943.27,155.50 L943.80,156.00 L944.36,156.50 L944.89,157.00 L945.37,157.50 L945.78,158.00 L946.07,158.50 L946.24,159.00 L946.28,159.50" fill="none" stroke="#648a4c" stroke-width="1.1"/>
<path d="M941.99,112.50 L942.22,113.00 L942.57,113.50 L943.02,114.00 L943.53,114.50 L944.08,115.00 L944.63,115.50 L945.14,116.00 L945.59,116.50 L945.94,117.00 L946.17,117.50 L946.28,118.00 L946.24,118.50 L946.07,119.00 L945.78,119.50 L945.37,120.00 L944.89,120.50 L944.36,121.00 L943.80,121.50 L943.27,122.00 L942.79,122.50 L942.38,123.00 L942.09,123.50 L941.92,124.00 L941.88,124.50 L941.99,125.00 L942.22,125.50 L942.57,126.00 L943.02,126.50 L943.53,127.00 L944.08,127.50 L944.63,128.00 L945.14,128.50 L945.59,129.00 L945.94,129.50 L946.17,130.00 L946.28,130.50 L946.24,131.00 L946.07,131.50 L945.78,132.00 L945.37,132.50 L944.89,133.00 L944.36,133.50 L943.80,134.00 L943.27,134.50 L942.79,135.00 L942.38,135.50 L942.09,136.00 L941.92,136.50 L941.88,137.00 L941.99,137.50 L942.22,138.00 L942.57,138.50 L943.02,139.00 L943.53,139.50 L944.08,140.00 L944.63,140.50 L945.14,141.00 L945.59,141.50 L945.94,142.00 L946.17,142.50 L946.28,143.00 L946.24,143.50 L946.07,144.00 L945.78,144.50 L945.37,145.00 L944.89,145.50 L944.36,146.00 L943.80,146.50 L943.27,147.00 L942.79,147.50 L942.38,148.00 L942.09,148.50 L941.92,149.00 L941.88,149.50 L941.99,150.00 L942.22,150.50 L942.57,151.00 L943.02,151.50 L943.53,152.00 L944.08,152.50 L944.63,153.00 L945.14,153.50 L945.59,154.00 L945.94,154.50 L946.17,155.00 L946.28,155.50 L946.24,156.00 L946.07,156.50 L945.78,157.00 L945.37,157.50 L944.89,158.00 L944.36,158.50 L943.80,159.00 L943.27,159.50" fill="none" stroke="#b9708f" stroke-width="1.1"/>
<path d="M950.70,112.50 L950.15,113.00 L949.64,113.50 L949.19,114.00 L948.84,114.50 L948.61,115.00 L948.50,115.50 L948.54,116.00 L948.71,116.50 L949.00,117.00 L949.41,117.50 L949.89,118.00 L950.42,118.50 L950.98,119.00 L951.51,119.50 L951.99,120.00 L952.40,120.50 L952.69,121.00 L952.86,121.50 L952.90,122.00 L952.79,122.50 L952.56,123.00 L952.21,123.50 L951.76,124.00 L951.25,124.50 L950.70,125.00 L950.15,125.50 L949.64,126.00 L949.19,126.50 L948.84,127.00 L948.61,127.50 L948.50,128.00 L948.54,128.50 L948.71,129.00 L949.00,129.50 L949.41,130.00 L949.89,130.50 L950.42,131.00 L950.98,131.50 L951.51,132.00 L951.99,132.50 L952.40,133.00 L952.69,133.50 L952.86,134.00 L952.90,134.50 L952.79,135.00 L952.56,135.50 L952.21,136.00 L951.76,136.50 L951.25,137.00 L950.70,137.50 L950.15,138.00 L949.64,138.50 L949.19,139.00 L948.84,139.50 L948.61,140.00 L948.50,140.50 L948.54,141.00 L948.71,141.50 L949.00,142.00 L949.41,142.50 L949.89,143.00 L950.42,143.50 L950.98,144.00 L951.51,144.50 L951.99,145.00 L952.40,145.50 L952.69,146.00 L952.86,146.50 L952.90,147.00 L952.79,147.50 L952.56,148.00 L952.21,148.50 L951.76,149.00 L951.25,149.50 L950.70,150.00 L950.15,150.50 L949.64,151.00 L949.19,151.50 L948.84,152.00 L948.61,152.50 L948.50,153.00 L948.54,153.50 L948.71,154.00 L949.00,154.50 L949.41,155.00 L949.89,155.50 L950.42,156.00 L950.98,156.50 L951.51,157.00 L951.99,157.50 L952.40,158.00 L952.69,158.50 L952.86,159.00 L952.90,159.50" fill="none" stroke="#7275b0" stroke-width="1.1"/>
<path d="M950.70,112.50 L950.15,113.00 L949.64,113.50 L949.19,114.00 L948.84,114.50 L948.61,115.00 L948.50,115.50 L948.54,116.00 L948.71,116.50 L949.00,117.00 L949.41,117.50 L949.89,118.00" fill="none" stroke="#648a4c" stroke-width="1.1"/>
<path d="M948.71,154.00 L949.00,154.50 L949.41,155.00 L949.89,155.50 L950.42,156.00 L950.98,156.50 L951.51,157.00 L951.99,157.50 L952.40,158.00 L952.69,158.50 L952.86,159.00 L952.90,159.50" fill="none" stroke="#648a4c" stroke-width="1.1"/>
<path d="M948.61,112.50 L948.84,113.00 L949.19,113.50 L949.64,114.00 L950.15,114.50 L950.70,115.00 L951.25,115.50 L951.76,116.00 L952.21,116.50 L952.56,117.00 L952.79,117.50 L952.90,118.00 L952.86,118.50 L952.69,119.00 L952.40,119.50 L951.99,120.00 L951.51,120.50 L950.98,121.00 L950.42,121.50 L949.89,122.00 L949.41,122.50 L949.00,123.00 L948.71,123.50 L948.54,124.00 L948.50,124.50 L948.61,125.00 L948.84,125.50 L949.19,126.00 L949.64,126.50 L950.15,127.00 L950.70,127.50 L951.25,128.00 L951.76,128.50 L952.21,129.00 L952.56,129.50 L952.79,130.00 L952.90,130.50 L952.86,131.00 L952.69,131.50 L952.40,132.00 L951.99,132.50 L951.51,133.00 L950.98,133.50 L950.42,134.00 L949.89,134.50 L949.41,135.00 L949.00,135.50 L948.71,136.00 L948.54,136.50 L948.50,137.00 L948.61,137.50 L948.84,138.00 L949.19,138.50 L949.64,139.00 L950.15,139.50 L950.70,140.00 L951.25,140.50 L951.76,141.00 L952.21,141.50 L952.56,142.00 L952.79,142.50 L952.90,143.00 L952.86,143.50 L952.69,144.00 L952.40,144.50 L951.99,145.00 L951.51,145.50 L950.98,146.00 L950.42,146.50 L949.89,147.00 L949.41,147.50 L949.00,148.00 L948.71,148.50 L948.54,149.00 L948.50,149.50 L948.61,150.00 L948.84,150.50 L949.19,151.00 L949.64,151.50 L950.15,152.00 L950.70,152.50 L951.25,153.00 L951.76,153.50 L952.21,154.00 L952.56,154.50 L952.79,155.00 L952.90,155.50 L952.86,156.00 L952.69,156.50 L952.40,157.00 L951.99,157.50 L951.51,158.00 L950.98,158.50 L950.42,159.00 L949.89,159.50" fill="none" stroke="#b9708f" stroke-width="1.1"/>
<path d="M957.32,112.50 L956.77,113.00 L956.26,113.50 L955.81,114.00 L955.46,114.50 L955.23,115.00 L955.12,115.50 L955.16,116.00 L955.33,116.50 L955.62,117.00 L956.03,117.50 L956.51,118.00 L957.04,118.50 L957.60,119.00 L958.13,119.50 L958.61,120.00 L959.02,120.50 L959.31,121.00 L959.48,121.50 L959.52,122.00 L959.41,122.50 L959.18,123.00 L958.83,123.50 L958.38,124.00 L957.87,124.50 L957.32,125.00 L956.77,125.50 L956.26,126.00 L955.81,126.50 L955.46,127.00 L955.23,127.50 L955.12,128.00 L955.16,128.50 L955.33,129.00 L955.62,129.50 L956.03,130.00 L956.51,130.50 L957.04,131.00 L957.60,131.50 L958.13,132.00 L958.61,132.50 L959.02,133.00 L959.31,133.50 L959.48,134.00 L959.52,134.50 L959.41,135.00 L959.18,135.50 L958.83,136.00 L958.38,136.50 L957.87,137.00 L957.32,137.50 L956.77,138.00 L956.26,138.50 L955.81,139.00 L955.46,139.50 L955.23,140.00 L955.12,140.50 L955.16,141.00 L955.33,141.50 L955.62,142.00 L956.03,142.50 L956.51,143.00 L957.04,143.50 L957.60,144.00 L958.13,144.50 L958.61,145.00 L959.02,145.50 L959.31,146.00 L959.48,146.50 L959.52,147.00 L959.41,147.50 L959.18,148.00 L958.83,148.50 L958.38,149.00 L957.87,149.50 L957.32,150.00 L956.77,150.50 L956.26,151.00 L955.81,151.50 L955.46,152.00 L955.23,152.50 L955.12,153.00 L955.16,153.50 L955.33,154.00 L955.62,154.50 L956.03,155.00 L956.51,155.50 L957.04,156.00 L957.60,156.50 L958.13,157.00 L958.61,157.50 L959.02,158.00 L959.31,158.50 L959.48,159.00 L959.52,159.50" fill="none" stroke="#7275b0" stroke-width="1.1"/>
<path d="M957.32,112.50 L956.77,113.00 L956.26,113.50 L955.81,114.00 L955.46,114.50 L955.23,115.00 L955.12,115.50 L955.16,116.00 L955.33,116.50 L955.62,117.00 L956.03,117.50 L956.51,118.00" fill="none" stroke="#648a4c" stroke-width="1.1"/>
<path d="M955.33,154.00 L955.62,154.50 L956.03,155.00 L956.51,155.50 L957.04,156.00 L957.60,156.50 L958.13,157.00 L958.61,157.50 L959.02,158.00 L959.31,158.50 L959.48,159.00 L959.52,159.50" fill="none" stroke="#648a4c" stroke-width="1.1"/>
<path d="M955.23,112.50 L955.46,113.00 L955.81,113.50 L956.26,114.00 L956.77,114.50 L957.32,115.00 L957.87,115.50 L958.38,116.00 L958.83,116.50 L959.18,117.00 L959.41,117.50 L959.52,118.00 L959.48,118.50 L959.31,119.00 L959.02,119.50 L958.61,120.00 L958.13,120.50 L957.60,121.00 L957.04,121.50 L956.51,122.00 L956.03,122.50 L955.62,123.00 L955.33,123.50 L955.16,124.00 L955.12,124.50 L955.23,125.00 L955.46,125.50 L955.81,126.00 L956.26,126.50 L956.77,127.00 L957.32,127.50 L957.87,128.00 L958.38,128.50 L958.83,129.00 L959.18,129.50 L959.41,130.00 L959.52,130.50 L959.48,131.00 L959.31,131.50 L959.02,132.00 L958.61,132.50 L958.13,133.00 L957.60,133.50 L957.04,134.00 L956.51,134.50 L956.03,135.00 L955.62,135.50 L955.33,136.00 L955.16,136.50 L955.12,137.00 L955.23,137.50 L955.46,138.00 L955.81,138.50 L956.26,139.00 L956.77,139.50 L957.32,140.00 L957.87,140.50 L958.38,141.00 L958.83,141.50 L959.18,142.00 L959.41,142.50 L959.52,143.00 L959.48,143.50 L959.31,144.00 L959.02,144.50 L958.61,145.00 L958.13,145.50 L957.60,146.00 L957.04,146.50 L956.51,147.00 L956.03,147.50 L955.62,148.00 L955.33,148.50 L955.16,149.00 L955.12,149.50 L955.23,150.00 L955.46,150.50 L955.81,151.00 L956.26,151.50 L956.77,152.00 L957.32,152.50 L957.87,153.00 L958.38,153.50 L958.83,154.00 L959.18,154.50 L959.41,155.00 L959.52,155.50 L959.48,156.00 L959.31,156.50 L959.02,157.00 L958.61,157.50 L958.13,158.00 L957.60,158.50 L957.04,159.00 L956.51,159.50" fill="none" stroke="#b9708f" stroke-width="1.1"/>
<path d="M963.94,112.50 L963.39,113.00 L962.88,113.50 L962.43,114.00 L962.08,114.50 L961.85,115.00 L961.74,115.50 L961.78,116.00 L961.95,116.50 L962.24,117.00 L962.65,117.50 L963.13,118.00 L963.66,118.50 L964.22,119.00 L964.75,119.50 L965.23,120.00 L965.64,120.50 L965.93,121.00 L966.10,121.50 L966.14,122.00 L966.03,122.50 L965.80,123.00 L965.45,123.50 L965.00,124.00 L964.49,124.50 L963.94,125.00 L963.39,125.50 L962.88,126.00 L962.43,126.50 L962.08,127.00 L961.85,127.50 L961.74,128.00 L961.78,128.50 L961.95,129.00 L962.24,129.50 L962.65,130.00 L963.13,130.50 L963.66,131.00 L964.22,131.50 L964.75,132.00 L965.23,132.50 L965.64,133.00 L965.93,133.50 L966.10,134.00 L966.14,134.50 L966.03,135.00 L965.80,135.50 L965.45,136.00 L965.00,136.50 L964.49,137.00 L963.94,137.50 L963.39,138.00 L962.88,138.50 L962.43,139.00 L962.08,139.50 L961.85,140.00 L961.74,140.50 L961.78,141.00 L961.95,141.50 L962.24,142.00 L962.65,142.50 L963.13,143.00 L963.66,143.50 L964.22,144.00 L964.75,144.50 L965.23,145.00 L965.64,145.50 L965.93,146.00 L966.10,146.50 L966.14,147.00 L966.03,147.50 L965.80,148.00 L965.45,148.50 L965.00,149.00 L964.49,149.50 L963.94,150.00 L963.39,150.50 L962.88,151.00 L962.43,151.50 L962.08,152.00 L961.85,152.50 L961.74,153.00 L961.78,153.50 L961.95,154.00 L962.24,154.50 L962.65,155.00 L963.13,155.50 L963.66,156.00 L964.22,156.50 L964.75,157.00 L965.23,157.50 L965.64,158.00 L965.93,158.50 L966.10,159.00 L966.14,159.50" fill="none" stroke="#7275b0" stroke-width="1.1"/>
<path d="M963.94,112.50 L963.39,113.00 L962.88,113.50 L962.43,114.00 L962.08,114.50 L961.85,115.00 L961.74,115.50 L961.78,116.00 L961.95,116.50 L962.24,117.00 L962.65,117.50 L963.13,118.00" fill="none" stroke="#648a4c" stroke-width="1.1"/>
<path d="M961.95,154.00 L962.24,154.50 L962.65,155.00 L963.13,155.50 L963.66,156.00 L964.22,156.50 L964.75,157.00 L965.23,157.50 L965.64,158.00 L965.93,158.50 L966.10,159.00 L966.14,159.50" fill="none" stroke="#648a4c" stroke-width="1.1"/>
<path d="M961.85,112.50 L962.08,113.00 L962.43,113.50 L962.88,114.00 L963.39,114.50 L963.94,115.00 L964.49,115.50 L965.00,116.00 L965.45,116.50 L965.80,117.00 L966.03,117.50 L966.14,118.00 L966.10,118.50 L965.93,119.00 L965.64,119.50 L965.23,120.00 L964.75,120.50 L964.22,121.00 L963.66,121.50 L963.13,122.00 L962.65,122.50 L962.24,123.00 L961.95,123.50 L961.78,124.00 L961.74,124.50 L961.85,125.00 L962.08,125.50 L962.43,126.00 L962.88,126.50 L963.39,127.00 L963.94,127.50 L964.49,128.00 L965.00,128.50 L965.45,129.00 L965.80,129.50 L966.03,130.00 L966.14,130.50 L966.10,131.00 L965.93,131.50 L965.64,132.00 L965.23,132.50 L964.75,133.00 L964.22,133.50 L963.66,134.00 L963.13,134.50 L962.65,135.00 L962.24,135.50 L961.95,136.00 L961.78,136.50 L961.74,137.00 L961.85,137.50 L962.08,138.00 L962.43,138.50 L962.88,139.00 L963.39,139.50 L963.94,140.00 L964.49,140.50 L965.00,141.00 L965.45,141.50 L965.80,142.00 L966.03,142.50 L966.14,143.00 L966.10,143.50 L965.93,144.00 L965.64,144.50 L965.23,145.00 L964.75,145.50 L964.22,146.00 L963.66,146.50 L963.13,147.00 L962.65,147.50 L962.24,148.00 L961.95,148.50 L961.78,149.00 L961.74,149.50 L961.85,150.00 L962.08,150.50 L962.43,151.00 L962.88,151.50 L963.39,152.00 L963.94,152.50 L964.49,153.00 L965.00,153.50 L965.45,154.00 L965.80,154.50 L966.03,155.00 L966.14,155.50 L966.10,156.00 L965.93,156.50 L965.64,157.00 L965.23,157.50 L964.75,158.00 L964.22,158.50 L963.66,159.00 L963.13,159.50" fill="none" stroke="#b9708f" stroke-width="1.1"/>
<path d="M970.56,112.50 L970.01,113.00 L969.50,113.50 L969.05,114.00 L968.70,114.50 L968.47,115.00 L968.36,115.50 L968.40,116.00 L968.57,116.50 L968.86,117.00 L969.27,117.50 L969.75,118.00 L970.28,118.50 L970.84,119.00 L971.37,119.50 L971.85,120.00 L972.26,120.50 L972.55,121.00 L972.72,121.50 L972.76,122.00 L972.65,122.50 L972.42,123.00 L972.07,123.50 L971.62,124.00 L971.11,124.50 L970.56,125.00 L970.01,125.50 L969.50,126.00 L969.05,126.50 L968.70,127.00 L968.47,127.50 L968.36,128.00 L968.40,128.50 L968.57,129.00 L968.86,129.50 L969.27,130.00 L969.75,130.50 L970.28,131.00 L970.84,131.50 L971.37,132.00 L971.85,132.50 L972.26,133.00 L972.55,133.50 L972.72,134.00 L972.76,134.50 L972.65,135.00 L972.42,135.50 L972.07,136.00 L971.62,136.50 L971.11,137.00 L970.56,137.50 L970.01,138.00 L969.50,138.50 L969.05,139.00 L968.70,139.50 L968.47,140.00 L968.36,140.50 L968.40,141.00 L968.57,141.50 L968.86,142.00 L969.27,142.50 L969.75,143.00 L970.28,143.50 L970.84,144.00 L971.37,144.50 L971.85,145.00 L972.26,145.50 L972.55,146.00 L972.72,146.50 L972.76,147.00 L972.65,147.50 L972.42,148.00 L972.07,148.50 L971.62,149.00 L971.11,149.50 L970.56,150.00 L970.01,150.50 L969.50,151.00 L969.05,151.50 L968.70,152.00 L968.47,152.50 L968.36,153.00 L968.40,153.50 L968.57,154.00 L968.86,154.50 L969.27,155.00 L969.75,155.50 L970.28,156.00 L970.84,156.50 L971.37,157.00 L971.85,157.50 L972.26,158.00 L972.55,158.50 L972.72,159.00 L972.76,159.50" fill="none" stroke="#7275b0" stroke-width="1.1"/>
<path d="M970.56,112.50 L970.01,113.00 L969.50,113.50 L969.05,114.00 L968.70,114.50 L968.47,115.00 L968.36,115.50 L968.40,116.00 L968.57,116.50 L968.86,117.00 L969.27,117.50 L969.75,118.00" fill="none" stroke="#648a4c" stroke-width="1.1"/>
<path d="M968.57,154.00 L968.86,154.50 L969.27,155.00 L969.75,155.50 L970.28,156.00 L970.84,156.50 L971.37,157.00 L971.85,157.50 L972.26,158.00 L972.55,158.50 L972.72,159.00 L972.76,159.50" fill="none" stroke="#648a4c" stroke-width="1.1"/>
<path d="M968.47,112.50 L968.70,113.00 L969.05,113.50 L969.50,114.00 L970.01,114.50 L970.56,115.00 L971.11,115.50 L971.62,116.00 L972.07,116.50 L972.42,117.00 L972.65,117.50 L972.76,118.00 L972.72,118.50 L972.55,119.00 L972.26,119.50 L971.85,120.00 L971.37,120.50 L970.84,121.00 L970.28,121.50 L969.75,122.00 L969.27,122.50 L968.86,123.00 L968.57,123.50 L968.40,124.00 L968.36,124.50 L968.47,125.00 L968.70,125.50 L969.05,126.00 L969.50,126.50 L970.01,127.00 L970.56,127.50 L971.11,128.00 L971.62,128.50 L972.07,129.00 L972.42,129.50 L972.65,130.00 L972.76,130.50 L972.72,131.00 L972.55,131.50 L972.26,132.00 L971.85,132.50 L971.37,133.00 L970.84,133.50 L970.28,134.00 L969.75,134.50 L969.27,135.00 L968.86,135.50 L968.57,136.00 L968.40,136.50 L968.36,137.00 L968.47,137.50 L968.70,138.00 L969.05,138.50 L969.50,139.00 L970.01,139.50 L970.56,140.00 L971.11,140.50 L971.62,141.00 L972.07,141.50 L972.42,142.00 L972.65,142.50 L972.76,143.00 L972.72,143.50 L972.55,144.00 L972.26,144.50 L971.85,145.00 L971.37,145.50 L970.84,146.00 L970.28,146.50 L969.75,147.00 L969.27,147.50 L968.86,148.00 L968.57,148.50 L968.40,149.00 L968.36,149.50 L968.47,150.00 L968.70,150.50 L969.05,151.00 L969.50,151.50 L970.01,152.00 L970.56,152.50 L971.11,153.00 L971.62,153.50 L972.07,154.00 L972.42,154.50 L972.65,155.00 L972.76,155.50 L972.72,156.00 L972.55,156.50 L972.26,157.00 L971.85,157.50 L971.37,158.00 L970.84,158.50 L970.28,159.00 L969.75,159.50" fill="none" stroke="#b9708f" stroke-width="1.1"/>
<path d="M977.18,112.50 L976.63,113.00 L976.12,113.50 L975.67,114.00 L975.32,114.50 L975.09,115.00 L974.98,115.50 L975.02,116.00 L975.19,116.50 L975.48,117.00 L975.89,117.50 L976.37,118.00 L976.90,118.50 L977.46,119.00 L977.99,119.50 L978.47,120.00 L978.88,120.50 L979.17,121.00 L979.34,121.50 L979.38,122.00 L979.27,122.50 L979.04,123.00 L978.69,123.50 L978.24,124.00 L977.73,124.50 L977.18,125.00 L976.63,125.50 L976.12,126.00 L975.67,126.50 L975.32,127.00 L975.09,127.50 L974.98,128.00 L975.02,128.50 L975.19,129.00 L975.48,129.50 L975.89,130.00 L976.37,130.50 L976.90,131.00 L977.46,131.50 L977.99,132.00 L978.47,132.50 L978.88,133.00 L979.17,133.50 L979.34,134.00 L979.38,134.50 L979.27,135.00 L979.04,135.50 L978.69,136.00 L978.24,136.50 L977.73,137.00 L977.18,137.50 L976.63,138.00 L976.12,138.50 L975.67,139.00 L975.32,139.50 L975.09,140.00 L974.98,140.50 L975.02,141.00 L975.19,141.50 L975.48,142.00 L975.89,142.50 L976.37,143.00 L976.90,143.50 L977.46,144.00 L977.99,144.50 L978.47,145.00 L978.88,145.50 L979.17,146.00 L979.34,146.50 L979.38,147.00 L979.27,147.50 L979.04,148.00 L978.69,148.50 L978.24,149.00 L977.73,149.50 L977.18,150.00 L976.63,150.50 L976.12,151.00 L975.67,151.50 L975.32,152.00 L975.09,152.50 L974.98,153.00 L975.02,153.50 L975.19,154.00 L975.48,154.50 L975.89,155.00 L976.37,155.50 L976.90,156.00 L977.46,156.50 L977.99,157.00 L978.47,157.50 L978.88,158.00 L979.17,158.50 L979.34,159.00 L979.38,159.50" fill="none" stroke="#7275b0" stroke-width="1.1"/>
<path d="M977.18,112.50 L976.63,113.00 L976.12,113.50 L975.67,114.00 L975.32,114.50 L975.09,115.00 L974.98,115.50 L975.02,116.00 L975.19,116.50 L975.48,117.00 L975.89,117.50 L976.37,118.00" fill="none" stroke="#648a4c" stroke-width="1.1"/>
<path d="M975.19,154.00 L975.48,154.50 L975.89,155.00 L976.37,155.50 L976.90,156.00 L977.46,156.50 L977.99,157.00 L978.47,157.50 L978.88,158.00 L979.17,158.50 L979.34,159.00 L979.38,159.50" fill="none" stroke="#648a4c" stroke-width="1.1"/>
<path d="M975.09,112.50 L975.32,113.00 L975.67,113.50 L976.12,114.00 L976.63,114.50 L977.18,115.00 L977.73,115.50 L978.24,116.00 L978.69,116.50 L979.04,117.00 L979.27,117.50 L979.38,118.00 L979.34,118.50 L979.17,119.00 L978.88,119.50 L978.47,120.00 L977.99,120.50 L977.46,121.00 L976.90,121.50 L976.37,122.00 L975.89,122.50 L975.48,123.00 L975.19,123.50 L975.02,124.00 L974.98,124.50 L975.09,125.00 L975.32,125.50 L975.67,126.00 L976.12,126.50 L976.63,127.00 L977.18,127.50 L977.73,128.00 L978.24,128.50 L978.69,129.00 L979.04,129.50 L979.27,130.00 L979.38,130.50 L979.34,131.00 L979.17,131.50 L978.88,132.00 L978.47,132.50 L977.99,133.00 L977.46,133.50 L976.90,134.00 L976.37,134.50 L975.89,135.00 L975.48,135.50 L975.19,136.00 L975.02,136.50 L974.98,137.00 L975.09,137.50 L975.32,138.00 L975.67,138.50 L976.12,139.00 L976.63,139.50 L977.18,140.00 L977.73,140.50 L978.24,141.00 L978.69,141.50 L979.04,142.00 L979.27,142.50 L979.38,143.00 L979.34,143.50 L979.17,144.00 L978.88,144.50 L978.47,145.00 L977.99,145.50 L977.46,146.00 L976.90,146.50 L976.37,147.00 L975.89,147.50 L975.48,148.00 L975.19,148.50 L975.02,149.00 L974.98,149.50 L975.09,150.00 L975.32,150.50 L975.67,151.00 L976.12,151.50 L976.63,152.00 L977.18,152.50 L977.73,153.00 L978.24,153.50 L978.69,154.00 L979.04,154.50 L979.27,155.00 L979.38,155.50 L979.34,156.00 L979.17,156.50 L978.88,157.00 L978.47,157.50 L977.99,158.00 L977.46,158.50 L976.90,159.00 L976.37,159.50" fill="none" stroke="#b9708f" stroke-width="1.1"/>
<path d="M983.80,112.50 L983.25,113.00 L982.74,113.50 L982.29,114.00 L981.94,114.50 L981.71,115.00 L981.60,115.50 L981.64,116.00 L981.81,116.50 L982.10,117.00 L982.51,117.50 L982.99,118.00 L983.52,118.50 L984.08,119.00 L984.61,119.50 L985.09,120.00 L985.50,120.50 L985.79,121.00 L985.96,121.50 L986.00,122.00 L985.89,122.50 L985.66,123.00 L985.31,123.50 L984.86,124.00 L984.35,124.50 L983.80,125.00 L983.25,125.50 L982.74,126.00 L982.29,126.50 L981.94,127.00 L981.71,127.50 L981.60,128.00 L981.64,128.50 L981.81,129.00 L982.10,129.50 L982.51,130.00 L982.99,130.50 L983.52,131.00 L984.08,131.50 L984.61,132.00 L985.09,132.50 L985.50,133.00 L985.79,133.50 L985.96,134.00 L986.00,134.50 L985.89,135.00 L985.66,135.50 L985.31,136.00 L984.86,136.50 L984.35,137.00 L983.80,137.50 L983.25,138.00 L982.74,138.50 L982.29,139.00 L981.94,139.50 L981.71,140.00 L981.60,140.50 L981.64,141.00 L981.81,141.50 L982.10,142.00 L982.51,142.50 L982.99,143.00 L983.52,143.50 L984.08,144.00 L984.61,144.50 L985.09,145.00 L985.50,145.50 L985.79,146.00 L985.96,146.50 L986.00,147.00 L985.89,147.50 L985.66,148.00 L985.31,148.50 L984.86,149.00 L984.35,149.50 L983.80,150.00 L983.25,150.50 L982.74,151.00 L982.29,151.50 L981.94,152.00 L981.71,152.50 L981.60,153.00 L981.64,153.50 L981.81,154.00 L982.10,154.50 L982.51,155.00 L982.99,155.50 L983.52,156.00 L984.08,156.50 L984.61,157.00 L985.09,157.50 L985.50,158.00 L985.79,158.50 L985.96,159.00 L986.00,159.50" fill="none" stroke="#7275b0" stroke-width="1.1"/>
<path d="M983.80,112.50 L983.25,113.00 L982.74,113.50 L982.29,114.00 L981.94,114.50 L981.71,115.00 L981.60,115.50 L981.64,116.00 L981.81,116.50 L982.10,117.00 L982.51,117.50 L982.99,118.00" fill="none" stroke="#648a4c" stroke-width="1.1"/>
<path d="M981.81,154.00 L982.10,154.50 L982.51,155.00 L982.99,155.50 L983.52,156.00 L984.08,156.50 L984.61,157.00 L985.09,157.50 L985.50,158.00 L985.79,158.50 L985.96,159.00 L986.00,159.50" fill="none" stroke="#648a4c" stroke-width="1.1"/>
<path d="M981.71,112.50 L981.94,113.00 L982.29,113.50 L982.74,114.00 L983.25,114.50 L983.80,115.00 L984.35,115.50 L984.86,116.00 L985.31,116.50 L985.66,117.00 L985.89,117.50 L986.00,118.00 L985.96,118.50 L985.79,119.00 L985.50,119.50 L985.09,120.00 L984.61,120.50 L984.08,121.00 L983.52,121.50 L982.99,122.00 L982.51,122.50 L982.10,123.00 L981.81,123.50 L981.64,124.00 L981.60,124.50 L981.71,125.00 L981.94,125.50 L982.29,126.00 L982.74,126.50 L983.25,127.00 L983.80,127.50 L984.35,128.00 L984.86,128.50 L985.31,129.00 L985.66,129.50 L985.89,130.00 L986.00,130.50 L985.96,131.00 L985.79,131.50 L985.50,132.00 L985.09,132.50 L984.61,133.00 L984.08,133.50 L983.52,134.00 L982.99,134.50 L982.51,135.00 L982.10,135.50 L981.81,136.00 L981.64,136.50 L981.60,137.00 L981.71,137.50 L981.94,138.00 L982.29,138.50 L982.74,139.00 L983.25,139.50 L983.80,140.00 L984.35,140.50 L984.86,141.00 L985.31,141.50 L985.66,142.00 L985.89,142.50 L986.00,143.00 L985.96,143.50 L985.79,144.00 L985.50,144.50 L985.09,145.00 L984.61,145.50 L984.08,146.00 L983.52,146.50 L982.99,147.00 L982.51,147.50 L982.10,148.00 L981.81,148.50 L981.64,149.00 L981.60,149.50 L981.71,150.00 L981.94,150.50 L982.29,151.00 L982.74,151.50 L983.25,152.00 L983.80,152.50 L984.35,153.00 L984.86,153.50 L985.31,154.00 L985.66,154.50 L985.89,155.00 L986.00,155.50 L985.96,156.00 L985.79,156.50 L985.50,157.00 L985.09,157.50 L984.61,158.00 L984.08,158.50 L983.52,159.00 L982.99,159.50" fill="none" stroke="#b9708f" stroke-width="1.1"/>
<path d="M990.42,112.50 L989.87,113.00 L989.36,113.50 L988.91,114.00 L988.56,114.50 L988.33,115.00 L988.22,115.50 L988.26,116.00 L988.43,116.50 L988.72,117.00 L989.13,117.50 L989.61,118.00 L990.14,118.50 L990.70,119.00 L991.23,119.50 L991.71,120.00 L992.12,120.50 L992.41,121.00 L992.58,121.50 L992.62,122.00 L992.51,122.50 L992.28,123.00 L991.93,123.50 L991.48,124.00 L990.97,124.50 L990.42,125.00 L989.87,125.50 L989.36,126.00 L988.91,126.50 L988.56,127.00 L988.33,127.50 L988.22,128.00 L988.26,128.50 L988.43,129.00 L988.72,129.50 L989.13,130.00 L989.61,130.50 L990.14,131.00 L990.70,131.50 L991.23,132.00 L991.71,132.50 L992.12,133.00 L992.41,133.50 L992.58,134.00 L992.62,134.50 L992.51,135.00 L992.28,135.50 L991.93,136.00 L991.48,136.50 L990.97,137.00 L990.42,137.50 L989.87,138.00 L989.36,138.50 L988.91,139.00 L988.56,139.50 L988.33,140.00 L988.22,140.50 L988.26,141.00 L988.43,141.50 L988.72,142.00 L989.13,142.50 L989.61,143.00 L990.14,143.50 L990.70,144.00 L991.23,144.50 L991.71,145.00 L992.12,145.50 L992.41,146.00 L992.58,146.50 L992.62,147.00 L992.51,147.50 L992.28,148.00 L991.93,148.50 L991.48,149.00 L990.97,149.50 L990.42,150.00 L989.87,150.50 L989.36,151.00 L988.91,151.50 L988.56,152.00 L988.33,152.50 L988.22,153.00 L988.26,153.50 L988.43,154.00 L988.72,154.50 L989.13,155.00 L989.61,155.50 L990.14,156.00 L990.70,156.50 L991.23,157.00 L991.71,157.50 L992.12,158.00 L992.41,158.50 L992.58,159.00 L992.62,159.50" fill="none" stroke="#7275b0" stroke-width="1.1"/>
<path d="M990.42,112.50 L989.87,113.00 L989.36,113.50 L988.91,114.00 L988.56,114.50 L988.33,115.00 L988.22,115.50 L988.26,116.00 L988.43,116.50 L988.72,117.00 L989.13,117.50 L989.61,118.00" fill="none" stroke="#648a4c" stroke-width="1.1"/>
<path d="M988.43,154.00 L988.72,154.50 L989.13,155.00 L989.61,155.50 L990.14,156.00 L990.70,156.50 L991.23,157.00 L991.71,157.50 L992.12,158.00 L992.41,158.50 L992.58,159.00 L992.62,159.50" fill="none" stroke="#648a4c" stroke-width="1.1"/>
<path d="M988.33,112.50 L988.56,113.00 L988.91,113.50 L989.36,114.00 L989.87,114.50 L990.42,115.00 L990.97,115.50 L991.48,116.00 L991.93,116.50 L992.28,117.00 L992.51,117.50 L992.62,118.00 L992.58,118.50 L992.41,119.00 L992.12,119.50 L991.71,120.00 L991.23,120.50 L990.70,121.00 L990.14,121.50 L989.61,122.00 L989.13,122.50 L988.72,123.00 L988.43,123.50 L988.26,124.00 L988.22,124.50 L988.33,125.00 L988.56,125.50 L988.91,126.00 L989.36,126.50 L989.87,127.00 L990.42,127.50 L990.97,128.00 L991.48,128.50 L991.93,129.00 L992.28,129.50 L992.51,130.00 L992.62,130.50 L992.58,131.00 L992.41,131.50 L992.12,132.00 L991.71,132.50 L991.23,133.00 L990.70,133.50 L990.14,134.00 L989.61,134.50 L989.13,135.00 L988.72,135.50 L988.43,136.00 L988.26,136.50 L988.22,137.00 L988.33,137.50 L988.56,138.00 L988.91,138.50 L989.36,139.00 L989.87,139.50 L990.42,140.00 L990.97,140.50 L991.48,141.00 L991.93,141.50 L992.28,142.00 L992.51,142.50 L992.62,143.00 L992.58,143.50 L992.41,144.00 L992.12,144.50 L991.71,145.00 L991.23,145.50 L990.70,146.00 L990.14,146.50 L989.61,147.00 L989.13,147.50 L988.72,148.00 L988.43,148.50 L988.26,149.00 L988.22,149.50 L988.33,150.00 L988.56,150.50 L988.91,151.00 L989.36,151.50 L989.87,152.00 L990.42,152.50 L990.97,153.00 L991.48,153.50 L991.93,154.00 L992.28,154.50 L992.51,155.00 L992.62,155.50 L992.58,156.00 L992.41,156.50 L992.12,157.00 L991.71,157.50 L991.23,158.00 L990.70,158.50 L990.14,159.00 L989.61,159.50" fill="none" stroke="#b9708f" stroke-width="1.1"/>
<path d="M914.50,95.00 L913.79,95.27 L913.11,95.56 L912.50,95.86 L911.98,96.21 L911.57,96.59 L911.30,97.03 L911.16,97.51 L911.16,98.05 L911.28,98.63 L911.51,99.25 L911.81,99.90 L912.16,100.56 L912.53,101.23 L912.88,101.90 L913.18,102.54 L913.40,103.16 L913.50,103.73 L913.49,104.26 L913.34,104.74 L913.05,105.17 L912.63,105.55 L912.10,105.89 L911.48,106.20 L910.79,106.48 L910.08,106.75 L909.37,107.02 L908.70,107.31 L908.09,107.62 L907.58,107.97 L907.20,108.36 L906.94,108.80 L906.82,109.29 L906.83,109.83 L906.96,110.42 L907.20,111.04 L907.51,111.69 L907.86,112.36 L908.23,113.03 L908.58,113.69 L908.87,114.33 L909.07,114.95 L909.17,115.52 L909.14,116.04 L908.97,116.51 L908.67,116.94 L908.24,117.31 L907.70,117.65 L907.07,117.95 L906.38,118.23 L905.66,118.50 L904.95,118.78 L904.28,119.06 L903.69,119.38 L903.19,119.73 L902.82,120.13 L902.58,120.57 L902.47,121.07 L902.49,121.61 L902.64,122.20 L902.89,122.83 L903.20,123.48 L903.56,124.15 L903.93,124.82 L904.27,125.49 L904.55,126.13 L904.75,126.73 L904.83,127.30 L904.78,127.82 L904.60,128.29 L904.28,128.70 L903.84,129.07 L903.29,129.41 L902.65,129.71 L901.96,129.98 L901.24,130.25 L900.53,130.53 L899.87,130.82 L899.29,131.14 L898.81,131.49 L898.44,131.90 L898.22,132.35 L898.12,132.85 L898.16,133.40 L898.32,133.99 L898.52,134.81 L898.86,135.50 L899.60,135.98 L900.32,136.27 L901.00,136.56 L901.62,136.87 L902.15,137.21 L902.56,137.59 L902.85,138.02 L903.00,138.50 L903.01,139.03 L902.90,139.60 L902.69,140.21 L902.39,140.86 L902.03,141.52 L901.66,142.18 L901.30,142.85 L900.99,143.49 L900.76,144.11 L900.63,144.69 L900.62,145.23 L900.75,145.71 L901.01,146.15 L901.41,146.54 L901.92,146.89 L902.52,147.20 L903.20,147.49 L903.91,147.77 L904.62,148.05 L905.29,148.34 L905.91,148.65 L906.43,148.99 L906.84,149.38 L907.11,149.81 L907.25,150.29 L907.26,150.82 L907.14,151.40 L906.92,152.01 L906.61,152.66 L906.26,153.32 L905.88,153.99 L905.53,154.65 L905.22,155.29 L904.99,155.91 L904.87,156.49 L904.87,157.02 L905.01,157.50 L905.29,157.94 L905.69,158.32 L906.21,158.67 L906.82,158.98 L907.50,159.27 L908.21,159.55 L908.92,159.82 L909.59,160.11 L910.20,160.43 L910.71,160.77 L911.11,161.16 L911.38,161.60 L911.51,162.09 L911.50,162.62 L911.38,163.20 L911.15,163.82 L910.84,164.46 L910.48,165.12 L910.10,165.79 L909.75,166.45 L909.45,167.10 L909.23,167.71 L909.12,168.28 L909.13,168.81 L909.28,169.29 L909.56,169.72 L909.97,170.11 L910.50,170.45 L911.12,170.76 L911.80,171.05 L912.51,171.32 L913.22,171.60 L913.89,171.89 L914.49,172.21 L914.99,172.56 L915.38,172.95 L915.64,173.39 L915.76,173.88 L915.75,174.42 L915.61,175.00 L915.37,175.62 L915.06,176.26 L914.70,176.93" fill="none" stroke="#7275b0" stroke-width="1.1"/>
<path d="M914.50,95.00 L913.79,95.27 L913.11,95.56 L912.50,95.86 L911.98,96.21 L911.57,96.59 L911.30,97.03 L911.16,97.51 L911.16,98.05 L911.28,98.63 L911.51,99.25 L911.81,99.90" fill="none" stroke="#648a4c" stroke-width="1.1"/>
<path d="M913.22,171.60 L913.89,171.89 L914.49,172.21 L914.99,172.56 L915.38,172.95 L915.64,173.39 L915.76,173.88 L915.75,174.42 L915.61,175.00 L915.37,175.62 L915.06,176.26 L914.70,176.93" fill="none" stroke="#648a4c" stroke-width="1.1"/>
<path d="M912.45,94.24 L912.51,94.80 L912.68,95.40 L912.94,96.03 L913.28,96.69 L913.64,97.36 L914.00,98.03 L914.33,98.69 L914.59,99.32 L914.76,99.92 L914.81,100.47 L914.74,100.98 L914.52,101.43 L914.17,101.84 L913.70,102.20 L913.12,102.52 L912.47,102.82 L911.77,103.09 L911.05,103.36 L910.35,103.64 L909.71,103.93 L909.14,104.26 L908.69,104.63 L908.36,105.04 L908.17,105.51 L908.11,106.02 L908.18,106.58 L908.36,107.19 L908.64,107.82 L908.97,108.48 L909.34,109.15 L909.70,109.82 L910.02,110.48 L910.28,111.11 L910.43,111.70 L910.47,112.25 L910.38,112.75 L910.15,113.20 L909.78,113.60 L909.30,113.96 L908.71,114.28 L908.05,114.57 L907.35,114.84 L906.63,115.11 L905.94,115.39 L905.30,115.69 L904.75,116.02 L904.31,116.39 L903.99,116.81 L903.81,117.28 L903.77,117.80 L903.85,118.37 L904.05,118.98 L904.33,119.62 L904.67,120.28 L905.04,120.95 L905.40,121.62 L905.71,122.27 L905.96,122.90 L906.10,123.49 L906.13,124.03 L906.02,124.53 L905.77,124.97 L905.39,125.37 L904.90,125.72 L904.30,126.03 L903.63,126.32 L902.93,126.59 L902.21,126.86 L901.52,127.14 L900.89,127.45 L900.35,127.78 L899.92,128.16 L899.62,128.58 L899.46,129.06 L899.43,129.58 L899.53,130.15 L899.73,130.77 L900.02,131.41 L900.37,132.07 L900.74,132.74 L901.09,133.41 L901.40,134.06 L901.64,134.68 L901.77,135.27 L901.88,135.44 L901.80,135.51 L901.84,135.58 L901.70,135.77 L901.54,136.36 L901.28,136.99 L900.95,137.64 L900.58,138.31 L900.21,138.98 L899.87,139.63 L899.59,140.27 L899.41,140.87 L899.33,141.43 L899.39,141.94 L899.58,142.40 L899.91,142.82 L900.36,143.19 L900.92,143.52 L901.56,143.82 L902.26,144.10 L902.97,144.38 L903.67,144.66 L904.32,144.95 L904.90,145.28 L905.36,145.64 L905.71,146.05 L905.92,146.51 L906.00,147.01 L905.94,147.57 L905.77,148.16 L905.50,148.79 L905.17,149.45 L904.80,150.11 L904.43,150.78 L904.10,151.43 L903.82,152.07 L903.65,152.66 L903.58,153.22 L903.65,153.73 L903.85,154.19 L904.19,154.60 L904.65,154.97 L905.22,155.30 L905.86,155.59 L906.56,155.88 L907.27,156.15 L907.97,156.43 L908.62,156.73 L909.18,157.06 L909.64,157.43 L909.98,157.84 L910.18,158.30 L910.25,158.81 L910.18,159.37 L910.00,159.96 L909.73,160.60 L909.39,161.25 L909.02,161.92 L908.66,162.58 L908.32,163.24 L908.06,163.87 L907.89,164.46 L907.83,165.01 L907.91,165.52 L908.12,165.98 L908.47,166.38 L908.94,166.75 L909.51,167.07 L910.16,167.37 L910.86,167.65 L911.57,167.93 L912.27,168.21 L912.91,168.51 L913.47,168.84 L913.92,169.21 L914.25,169.63 L914.44,170.09 L914.49,170.60 L914.42,171.16 L914.23,171.76 L913.96,172.40 L913.62,173.05 L913.25,173.72 L912.88,174.39 L912.55,175.04 L912.29,175.67 L912.13,176.26 L912.08,176.81 L912.17,177.31 L912.39,177.76" fill="none" stroke="#b9708f" stroke-width="1.1"/>
<path d="M914.50,113.00 L913.86,113.29 L913.24,113.60 L912.69,113.92 L912.21,114.28 L911.83,114.67 L911.57,115.11 L911.42,115.59 L911.39,116.11 L911.47,116.68 L911.64,117.28 L911.87,117.90 L912.15,118.54 L912.45,119.19 L912.72,119.83 L912.96,120.45 L913.12,121.05 L913.19,121.61 L913.15,122.13 L913.00,122.61 L912.73,123.04 L912.35,123.44 L911.87,123.79 L911.31,124.11 L910.69,124.42 L910.05,124.71 L909.40,125.00 L908.79,125.31 L908.24,125.63 L907.77,125.99 L907.40,126.39 L907.14,126.83 L907.00,127.31 L906.98,127.83 L907.06,128.40 L907.23,129.00 L907.47,129.63 L907.75,130.27 L908.04,130.92 L908.32,131.56 L908.55,132.18 L908.71,132.77 L908.77,133.33 L908.73,133.85 L908.57,134.33 L908.30,134.76 L907.91,135.15 L907.49,135.28 L906.92,135.50 L906.61,135.89 L906.30,136.46 L906.02,137.10 L905.76,137.73 L905.57,138.34 L905.45,138.92 L905.44,139.46 L905.55,139.96 L905.77,140.41 L906.10,140.82 L906.55,141.19 L907.08,141.52 L907.67,141.83 L908.31,142.13 L908.95,142.42 L909.58,142.72 L910.16,143.03 L910.67,143.38 L911.09,143.76 L911.39,144.18 L911.58,144.64 L911.65,145.15 L911.61,145.70 L911.48,146.29 L911.26,146.90 L911.00,147.54 L910.70,148.19 L910.42,148.83 L910.17,149.46 L909.97,150.07 L909.87,150.64 L909.86,151.18 L909.97,151.68 L910.20,152.13 L910.54,152.53 L910.99,152.90 L911.52,153.23 L912.12,153.54 L912.76,153.84 L913.41,154.13 L914.03,154.43 L914.61,154.74 L915.11,155.09 L915.52,155.47 L915.82,155.89 L916.00,156.36 L916.07,156.87 L916.03,157.42" fill="none" stroke="#7275b0" stroke-width="1.1"/>
<path d="M914.50,113.00 L913.86,113.29 L913.24,113.60 L912.69,113.92 L912.21,114.28 L911.83,114.67 L911.57,115.11 L911.42,115.59 L911.39,116.11 L911.47,116.68 L911.64,117.28 L911.87,117.90" fill="none" stroke="#648a4c" stroke-width="1.1"/>
<path d="M911.52,153.23 L912.12,153.54 L912.76,153.84 L913.41,154.13 L914.03,154.43 L914.61,154.74 L915.11,155.09 L915.52,155.47 L915.82,155.89 L916.00,156.36 L916.07,156.87 L916.03,157.42" fill="none" stroke="#648a4c" stroke-width="1.1"/>
<path d="M912.72,112.33 L912.74,112.87 L912.87,113.45 L913.07,114.07 L913.33,114.70 L913.62,115.35 L913.91,115.99 L914.17,116.62 L914.37,117.24 L914.49,117.82 L914.51,118.36 L914.42,118.86 L914.21,119.32 L913.89,119.73 L913.45,120.10 L912.93,120.44 L912.34,120.75 L911.71,121.05 L911.06,121.34 L910.43,121.64 L909.84,121.95 L909.33,122.29 L908.90,122.67 L908.59,123.09 L908.38,123.55 L908.30,124.05 L908.33,124.60 L908.46,125.18 L908.67,125.79 L908.93,126.43 L909.22,127.07 L909.51,127.72 L909.76,128.35 L909.96,128.96 L910.08,129.54 L910.09,130.08 L909.99,130.58 L909.78,131.04 L909.45,131.45 L909.01,131.82 L908.48,132.15 L907.89,132.46 L907.25,132.76 L906.61,133.05 L905.98,133.35 L905.39,133.66 L904.88,134.01 L904.38,134.69 L904.03,135.50 L904.22,136.34 L904.59,137.10 L904.98,137.49 L905.47,137.84 L906.03,138.17 L906.65,138.47 L907.30,138.76 L907.94,139.05 L908.55,139.36 L909.09,139.69 L909.56,140.05 L909.92,140.45 L910.17,140.89 L910.30,141.37 L910.32,141.90 L910.23,142.47 L910.06,143.07 L909.81,143.70 L909.53,144.34 L909.24,144.99 L908.97,145.63 L908.74,146.25 L908.59,146.84 L908.53,147.40 L908.58,147.92 L908.74,148.39 L909.03,148.82 L909.42,149.21 L909.91,149.56 L910.48,149.88 L911.10,150.18 L911.75,150.47 L912.39,150.76 L912.99,151.07 L913.54,151.40 L914.00,151.76 L914.36,152.16 L914.60,152.61 L914.73,153.09 L914.74,153.63 L914.64,154.20 L914.46,154.80 L914.22,155.43 L913.93,156.07 L913.64,156.72 L913.37,157.36 L913.15,157.98 L913.00,158.57" fill="none" stroke="#b9708f" stroke-width="1.1"/>
<path d="M994.90,95.00 L994.54,95.68 L994.22,96.34 L993.96,96.98 L993.80,97.59 L993.76,98.14 L993.84,98.65 L994.07,99.11 L994.43,99.51 L994.91,99.86 L995.49,100.18 L996.16,100.46 L996.87,100.73 L997.59,100.99 L998.29,101.26 L998.94,101.55 L999.51,101.88 L999.96,102.24 L1000.29,102.66 L1000.48,103.13 L1000.54,103.65 L1000.46,104.21 L1000.28,104.83 L1000.00,105.47 L999.67,106.14 L999.31,106.82 L998.96,107.50 L998.65,108.16 L998.41,108.79 L998.27,109.38 L998.26,109.93 L998.38,110.43 L998.63,110.87 L999.02,111.26 L999.53,111.60 L1000.13,111.91 L1000.81,112.19 L1001.53,112.46 L1002.25,112.72 L1002.94,112.99 L1003.57,113.29 L1004.11,113.62 L1004.54,114.00 L1004.84,114.43 L1005.00,114.91 L1005.02,115.44 L1004.92,116.02 L1004.71,116.64 L1004.42,117.29 L1004.08,117.96 L1003.72,118.64 L1003.37,119.32 L1003.08,119.97 L1002.86,120.60 L1002.75,121.18 L1002.77,121.71 L1002.92,122.20 L1003.20,122.63 L1003.62,123.01 L1004.15,123.34 L1004.78,123.64 L1005.47,123.92 L1006.19,124.18 L1006.91,124.45 L1007.59,124.72 L1008.20,125.03 L1008.72,125.37 L1009.11,125.76 L1009.38,126.20 L1009.51,126.69 L1009.50,127.23 L1009.38,127.82 L1009.15,128.45 L1008.84,129.11 L1008.49,129.78 L1008.13,130.46 L1007.79,131.13 L1007.51,131.78 L1007.32,132.40 L1007.24,132.97 L1007.28,133.49 L1007.46,133.97 L1007.78,134.38 L1008.23,134.75 L1008.78,135.08 L1009.38,135.21 L1010.10,135.50 L1010.50,136.00 L1010.84,136.71 L1011.16,137.36 L1011.39,137.99 L1011.52,138.58 L1011.53,139.12 L1011.41,139.61 L1011.15,140.05 L1010.76,140.44 L1010.25,140.79 L1009.64,141.10 L1008.96,141.38 L1008.25,141.65 L1007.53,141.92 L1006.84,142.20 L1006.22,142.50 L1005.69,142.84 L1005.27,143.22 L1004.99,143.65 L1004.84,144.14 L1004.82,144.67 L1004.93,145.25 L1005.15,145.87 L1005.44,146.52 L1005.79,147.19 L1006.16,147.86 L1006.51,148.53 L1006.81,149.18 L1007.03,149.80 L1007.14,150.38 L1007.12,150.92 L1006.97,151.40 L1006.69,151.83 L1006.27,152.21 L1005.74,152.55 L1005.12,152.85 L1004.43,153.13 L1003.71,153.40 L1003.00,153.67 L1002.32,153.96 L1001.71,154.26 L1001.20,154.61 L1000.81,155.00 L1000.55,155.44 L1000.42,155.93 L1000.43,156.47 L1000.57,157.06 L1000.80,157.69 L1001.11,158.34 L1001.46,159.01 L1001.83,159.69 L1002.17,160.36 L1002.46,161.00 L1002.66,161.62 L1002.75,162.19 L1002.71,162.71 L1002.53,163.18 L1002.22,163.61 L1001.78,163.98 L1001.23,164.31 L1000.60,164.61 L999.90,164.89 L999.18,165.15 L998.47,165.42 L997.80,165.71 L997.21,166.03 L996.72,166.38 L996.35,166.78 L996.12,167.23 L996.02,167.73 L996.05,168.28 L996.20,168.88 L996.45,169.51 L996.78,170.17 L997.14,170.84 L997.50,171.52 L997.83,172.18 L998.10,172.82 L998.28,173.43 L998.35,173.99 L998.29,174.51 L998.09,174.97 L997.75,175.38 L997.29,175.74 L996.72,176.07 L996.07,176.36 L995.37,176.64 L994.65,176.90" fill="none" stroke="#7275b0" stroke-width="1.1"/>
<path d="M994.90,95.00 L994.54,95.68 L994.22,96.34 L993.96,96.98 L993.80,97.59 L993.76,98.14 L993.84,98.65 L994.07,99.11 L994.43,99.51 L994.91,99.86 L995.49,100.18 L996.16,100.46" fill="none" stroke="#648a4c" stroke-width="1.1"/>
<path d="M997.83,172.18 L998.10,172.82 L998.28,173.43 L998.35,173.99 L998.29,174.51 L998.09,174.97 L997.75,175.38 L997.29,175.74 L996.72,176.07 L996.07,176.36 L995.37,176.64 L994.65,176.90" fill="none" stroke="#648a4c" stroke-width="1.1"/>
<path d="M992.86,95.79 L993.27,96.17 L993.80,96.50 L994.42,96.81 L995.11,97.08 L995.83,97.34 L996.55,97.61 L997.23,97.89 L997.85,98.19 L998.37,98.53 L998.77,98.92 L999.04,99.35 L999.17,99.84 L999.17,100.39 L999.05,100.97 L998.82,101.60 L998.52,102.26 L998.17,102.93 L997.81,103.61 L997.47,104.29 L997.19,104.94 L996.99,105.55 L996.90,106.13 L996.95,106.65 L997.12,107.12 L997.44,107.54 L997.88,107.91 L998.43,108.24 L999.07,108.54 L999.77,108.81 L1000.49,109.07 L1001.21,109.34 L1001.88,109.62 L1002.47,109.93 L1002.97,110.28 L1003.34,110.68 L1003.58,111.13 L1003.68,111.63 L1003.65,112.18 L1003.50,112.78 L1003.25,113.42 L1002.93,114.08 L1002.58,114.76 L1002.22,115.44 L1001.89,116.10 L1001.63,116.75 L1001.45,117.35 L1001.39,117.92 L1001.47,118.43 L1001.68,118.89 L1002.02,119.30 L1002.49,119.66 L1003.06,119.98 L1003.72,120.26 L1004.43,120.53 L1005.15,120.79 L1005.86,121.06 L1006.51,121.35 L1007.09,121.67 L1007.56,122.03 L1007.90,122.44 L1008.10,122.90 L1008.17,123.42 L1008.11,123.98 L1007.94,124.59 L1007.67,125.23 L1007.35,125.90 L1006.99,126.58 L1006.63,127.26 L1006.32,127.92 L1006.07,128.55 L1005.92,129.15 L1005.89,129.70 L1006.00,130.20 L1006.24,130.65 L1006.61,131.05 L1007.11,131.40 L1007.70,131.71 L1008.37,131.99 L1009.09,132.26 L1009.81,132.52 L1010.51,132.79 L1011.15,133.09 L1011.70,133.42 L1012.14,133.79 L1012.56,134.59 L1012.78,135.49 L1012.41,136.36 L1011.87,137.09 L1011.31,137.42 L1010.67,137.72 L1009.97,137.99 L1009.25,138.26 L1008.54,138.53 L1007.88,138.82 L1007.29,139.14 L1006.81,139.49 L1006.45,139.90 L1006.22,140.35 L1006.13,140.85 L1006.17,141.41 L1006.33,142.01 L1006.59,142.64 L1006.91,143.30 L1007.28,143.98 L1007.64,144.65 L1007.97,145.31 L1008.24,145.95 L1008.41,146.55 L1008.47,147.11 L1008.39,147.63 L1008.18,148.09 L1007.84,148.49 L1007.37,148.86 L1006.80,149.18 L1006.14,149.47 L1005.44,149.74 L1004.71,150.01 L1004.01,150.28 L1003.36,150.58 L1002.79,150.90 L1002.33,151.27 L1002.00,151.68 L1001.80,152.14 L1001.73,152.66 L1001.80,153.22 L1001.98,153.83 L1002.25,154.47 L1002.58,155.13 L1002.95,155.80 L1003.31,156.48 L1003.63,157.14 L1003.88,157.77 L1004.03,158.36 L1004.06,158.92 L1003.97,159.42 L1003.73,159.87 L1003.36,160.27 L1002.87,160.62 L1002.28,160.94 L1001.61,161.22 L1000.90,161.49 L1000.18,161.76 L999.49,162.04 L998.85,162.34 L998.30,162.67 L997.86,163.04 L997.55,163.46 L997.37,163.94 L997.34,164.46 L997.43,165.03 L997.62,165.64 L997.91,166.29 L998.25,166.96 L998.62,167.63 L998.97,168.30 L999.28,168.96 L999.52,169.59 L999.65,170.17 L999.66,170.72 L999.53,171.21 L999.27,171.65 L998.88,172.04 L998.37,172.38 L997.76,172.69 L997.08,172.98 L996.37,173.25 L995.65,173.51 L994.96,173.79 L994.34,174.10 L993.81,174.44 L993.39,174.82 L993.11,175.25 L992.96,175.73 L992.95,176.27" fill="none" stroke="#b9708f" stroke-width="1.1"/>
<path d="M994.90,113.00 L994.61,113.65 L994.36,114.28 L994.15,114.90 L994.04,115.48 L994.02,116.02 L994.11,116.53 L994.32,116.98 L994.65,117.39 L995.08,117.77 L995.61,118.10 L996.20,118.41 L996.84,118.71 L997.49,119.00 L998.12,119.29 L998.71,119.60 L999.22,119.94 L999.65,120.32 L999.97,120.73 L1000.17,121.19 L1000.25,121.70 L1000.22,122.25 L1000.09,122.83 L999.89,123.45 L999.62,124.09 L999.34,124.74 L999.05,125.38 L998.80,126.02 L998.60,126.63 L998.49,127.21 L998.48,127.75 L998.59,128.24 L998.81,128.70 L999.15,129.11 L999.59,129.47 L1000.12,129.81 L1000.72,130.12 L1001.36,130.41 L1002.01,130.70 L1002.64,130.99 L1003.22,131.31 L1003.73,131.65 L1004.14,132.03 L1004.45,132.45 L1004.64,132.91 L1004.71,133.42 L1004.68,133.98 L1004.60,134.79 L1004.39,135.50 L1003.72,136.05 L1003.06,136.40 L1002.41,136.70 L1001.81,137.00 L1001.26,137.33 L1000.80,137.69 L1000.44,138.09 L1000.20,138.54 L1000.07,139.03 L1000.06,139.56 L1000.16,140.13 L1000.34,140.74 L1000.58,141.37 L1000.86,142.01 L1001.15,142.66 L1001.42,143.30 L1001.64,143.92 L1001.78,144.51 L1001.83,145.07 L1001.77,145.58 L1001.59,146.05 L1001.29,146.48 L1000.89,146.86 L1000.39,147.20 L999.81,147.52 L999.18,147.82 L998.53,148.11 L997.89,148.40 L997.29,148.71 L996.75,149.04 L996.30,149.40 L995.95,149.81 L995.72,150.25 L995.60,150.75 L995.60,151.29 L995.71,151.86 L995.89,152.47 L996.14,153.10 L996.43,153.75 L996.72,154.40 L996.98,155.03 L997.19,155.65 L997.33,156.24 L997.37,156.79 L997.30,157.30 L997.11,157.77 L996.80,158.19 L996.38,158.57" fill="none" stroke="#7275b0" stroke-width="1.1"/>
<path d="M994.90,113.00 L994.61,113.65 L994.36,114.28 L994.15,114.90 L994.04,115.48 L994.02,116.02 L994.11,116.53 L994.32,116.98 L994.65,117.39 L995.08,117.77 L995.61,118.10 L996.20,118.41" fill="none" stroke="#648a4c" stroke-width="1.1"/>
<path d="M995.89,152.47 L996.14,153.10 L996.43,153.75 L996.72,154.40 L996.98,155.03 L997.19,155.65 L997.33,156.24 L997.37,156.79 L997.30,157.30 L997.11,157.77 L996.80,158.19 L996.38,158.57" fill="none" stroke="#648a4c" stroke-width="1.1"/>
<path d="M993.12,113.68 L993.50,114.07 L993.98,114.43 L994.54,114.75 L995.16,115.05 L995.80,115.34 L996.45,115.63 L997.06,115.93 L997.62,116.26 L998.10,116.61 L998.47,117.01 L998.74,117.44 L998.88,117.93 L998.91,118.45 L998.83,119.02 L998.66,119.62 L998.43,120.25 L998.15,120.89 L997.86,121.54 L997.59,122.18 L997.36,122.81 L997.20,123.40 L997.14,123.96 L997.18,124.49 L997.34,124.96 L997.62,125.39 L998.01,125.78 L998.49,126.13 L999.06,126.45 L999.68,126.75 L1000.33,127.04 L1000.97,127.33 L1001.58,127.64 L1002.13,127.96 L1002.60,128.32 L1002.97,128.72 L1003.22,129.16 L1003.35,129.65 L1003.37,130.18 L1003.28,130.75 L1003.11,131.35 L1002.87,131.98 L1002.59,132.63 L1002.30,133.27 L1002.03,133.91 L1001.80,134.54 L1001.65,135.13 L1001.51,135.38 L1001.52,135.50 L1001.37,135.60 L1001.39,135.77 L1001.43,136.32 L1001.57,136.91 L1001.78,137.53 L1002.05,138.17 L1002.34,138.82 L1002.62,139.46 L1002.87,140.09 L1003.06,140.70 L1003.16,141.28 L1003.16,141.82 L1003.04,142.31 L1002.80,142.76 L1002.45,143.16 L1002.00,143.52 L1001.46,143.85 L1000.86,144.16 L1000.22,144.45 L999.57,144.74 L998.94,145.04 L998.37,145.36 L997.87,145.70 L997.46,146.09 L997.17,146.51 L996.99,146.98 L996.93,147.49 L996.98,148.05 L997.12,148.64 L997.34,149.26 L997.61,149.90 L997.90,150.55 L998.19,151.20 L998.43,151.83 L998.61,152.43 L998.70,153.01 L998.69,153.54 L998.56,154.03 L998.31,154.47 L997.95,154.87 L997.49,155.23 L996.94,155.56 L996.34,155.86 L995.69,156.15 L995.05,156.44 L994.42,156.74 L993.85,157.06 L993.36,157.41" fill="none" stroke="#b9708f" stroke-width="1.1"/>
<rect x="831.20" y="257.20" width="242.80" height="178.50" fill="none" stroke="#231f20" stroke-width="1.6"/>
<text x="841.00" y="279.80" text-anchor="start" font-size="20.5" >(F)</text>
<path d="M881.60,339.00 V279.60 H1032.60 V339.00" fill="none" stroke="#231f20" stroke-width="1.5"/>
<ellipse cx="955.00" cy="280.00" rx="23.40" ry="16.50" fill="#fcf5f2" stroke="#231f20" stroke-width="1.6"/>
<text x="955.00" y="286.70" text-anchor="middle" font-size="20" >V</text>
<rect x="877.30" y="339.00" width="9.70" height="49.30" fill="#1f1416"/>
<rect x="1028.50" y="339.00" width="9.20" height="49.30" fill="#1f1416"/>
<rect x="924.6" y="328.8" width="80" height="23.6" fill="#d6de7f"/>
<rect x="924.6" y="399.2" width="80" height="23.4" fill="#d6de7f"/>
<path d="M924.60,332.00 L923.90,332.29 L923.23,332.59 L922.62,332.91 L922.11,333.26 L921.72,333.66 L921.45,334.09 L921.33,334.58 L921.33,335.11 L921.46,335.68 L921.70,336.29 L922.02,336.93 L922.38,337.58 L922.76,338.25 L923.13,338.90 L923.45,339.54 L923.68,340.15 L923.81,340.72 L923.82,341.25 L923.69,341.73 L923.42,342.17 L923.02,342.56 L922.51,342.92 L921.91,343.24 L921.24,343.54 L920.54,343.83 L919.83,344.11 L919.16,344.41 L918.56,344.73 L918.05,345.09 L917.66,345.48 L917.40,345.92 L917.27,346.41 L917.28,346.94 L917.41,347.51 L917.64,348.12 L917.96,348.76 L918.33,349.41 L918.71,350.07 L919.08,350.73 L919.39,351.37 L919.63,351.98 L919.75,352.55 L919.76,353.08 L919.63,353.56 L919.36,354.00 L918.96,354.39 L918.45,354.75 L917.85,355.07 L917.17,355.36 L916.47,355.65 L915.77,355.94 L915.10,356.24 L914.50,356.56 L913.99,356.92 L913.60,357.31 L913.34,357.75 L913.21,358.24 L913.22,358.77 L913.35,359.34 L913.59,359.95 L913.91,360.59 L914.27,361.24 L914.66,361.90 L915.02,362.56 L915.34,363.20 L915.57,363.80 L915.70,364.38 L915.70,364.91 L915.57,365.39 L915.30,365.83 L914.90,366.22 L914.39,366.57 L913.78,366.89 L913.11,367.19 L912.41,367.48 L911.70,367.77 L911.03,368.07 L910.43,368.39 L909.93,368.74 L909.54,369.14 L909.28,369.58 L909.15,370.06 L909.16,370.60 L909.30,371.17 L909.54,371.78 L909.85,372.42 L910.22,373.07 L910.60,373.73 L910.97,374.39 L911.28,375.03 L911.51,375.63 L911.72,375.88 L911.76,375.99 L911.92,376.07 L911.89,376.22 L911.82,376.78 L911.63,377.37 L911.35,378.00 L911.01,378.65 L910.63,379.32 L910.26,379.98 L909.92,380.63 L909.65,381.25 L909.48,381.85 L909.42,382.40 L909.49,382.90 L909.70,383.36 L910.04,383.77 L910.51,384.14 L911.07,384.47 L911.72,384.77 L912.42,385.06 L913.13,385.34 L913.82,385.63 L914.46,385.94 L915.01,386.27 L915.46,386.64 L915.79,387.06 L915.98,387.53 L916.03,388.04 L915.95,388.60 L915.76,389.19 L915.48,389.82 L915.14,390.48 L914.76,391.14 L914.39,391.80 L914.05,392.45 L913.78,393.07 L913.61,393.66 L913.56,394.21 L913.64,394.72 L913.85,395.17 L914.20,395.58 L914.67,395.95 L915.24,396.28 L915.89,396.58 L916.59,396.87 L917.30,397.15 L917.99,397.44 L918.62,397.74 L919.18,398.08 L919.62,398.46 L919.94,398.87 L920.12,399.34 L920.17,399.85 L920.09,400.41 L919.90,401.01 L919.61,401.64 L919.26,402.30 L918.89,402.96 L918.51,403.62 L918.18,404.27 L917.92,404.89 L917.75,405.48 L917.70,406.03 L917.78,406.53 L918.00,406.98 L918.36,407.39 L918.83,407.76 L919.41,408.08 L920.06,408.39 L920.76,408.67 L921.47,408.95 L922.16,409.24 L922.79,409.55 L923.34,409.89 L923.78,410.27 L924.09,410.69 L924.27,411.15 L924.31,411.67 L924.23,412.23 L924.03,412.83 L923.74,413.46 L923.39,414.12 L923.01,414.78 L922.64,415.44 L922.31,416.09 L922.05,416.71 L921.89,417.30 L921.84,417.84 L921.93,418.34 L922.16,418.80 L922.52,419.20 L922.99,419.56" fill="none" stroke="#7275b0" stroke-width="1.1"/>
<path d="M924.60,332.00 L923.90,332.29 L923.23,332.59 L922.62,332.91 L922.11,333.26 L921.72,333.66 L921.45,334.09 L921.33,334.58 L921.33,335.11 L921.46,335.68 L921.70,336.29 L922.02,336.93" fill="none" stroke="#648a4c" stroke-width="1.1"/>
<path d="M923.74,413.46 L923.39,414.12 L923.01,414.78 L922.64,415.44 L922.31,416.09 L922.05,416.71 L921.89,417.30 L921.84,417.84 L921.93,418.34 L922.16,418.80 L922.52,419.20 L922.99,419.56" fill="none" stroke="#648a4c" stroke-width="1.1"/>
<path d="M922.53,331.29 L922.60,331.84 L922.79,332.44 L923.07,333.06 L923.41,333.71 L923.79,334.37 L924.17,335.02 L924.51,335.67 L924.79,336.30 L924.98,336.89 L925.05,337.44 L924.99,337.95 L924.79,338.41 L924.46,338.83 L924.00,339.20 L923.44,339.53 L922.80,339.84 L922.11,340.14 L921.40,340.42 L920.71,340.71 L920.07,341.02 L919.51,341.36 L919.06,341.73 L918.73,342.15 L918.53,342.61 L918.47,343.12 L918.54,343.67 L918.73,344.26 L919.01,344.89 L919.36,345.54 L919.74,346.20 L920.11,346.85 L920.46,347.50 L920.74,348.13 L920.92,348.72 L920.99,349.27 L920.93,349.78 L920.73,350.24 L920.39,350.65 L919.94,351.02 L919.38,351.36 L918.74,351.67 L918.04,351.96 L917.34,352.25 L916.65,352.54 L916.01,352.85 L915.45,353.19 L915.00,353.56 L914.67,353.98 L914.47,354.44 L914.42,354.95 L914.49,355.50 L914.68,356.09 L914.96,356.72 L915.30,357.37 L915.68,358.03 L916.06,358.68 L916.40,359.33 L916.68,359.96 L916.86,360.55 L916.93,361.10 L916.87,361.61 L916.67,362.07 L916.33,362.48 L915.88,362.85 L915.31,363.19 L914.67,363.50 L913.98,363.79 L913.27,364.07 L912.58,364.37 L911.94,364.68 L911.39,365.01 L910.93,365.39 L910.61,365.80 L910.41,366.27 L910.36,366.78 L910.43,367.33 L910.62,367.92 L910.90,368.55 L911.25,369.20 L911.63,369.86 L912.01,370.51 L912.35,371.16 L912.63,371.78 L912.81,372.38 L912.87,372.93 L912.81,373.43 L912.61,373.89 L912.27,374.31 L911.81,374.68 L911.25,375.01 L910.61,375.32 L909.93,375.57 L909.19,376.00 L908.81,376.62 L908.54,377.40 L908.31,378.01 L908.19,378.58 L908.19,379.11 L908.33,379.60 L908.61,380.03 L909.01,380.42 L909.53,380.77 L910.14,381.08 L910.82,381.38 L911.52,381.66 L912.23,381.94 L912.90,382.24 L913.50,382.56 L914.01,382.91 L914.40,383.30 L914.65,383.74 L914.78,384.23 L914.77,384.77 L914.63,385.34 L914.39,385.96 L914.08,386.60 L913.71,387.26 L913.33,387.92 L912.97,388.58 L912.67,389.22 L912.45,389.83 L912.33,390.40 L912.34,390.93 L912.48,391.41 L912.76,391.84 L913.17,392.23 L913.69,392.57 L914.31,392.89 L914.99,393.18 L915.69,393.46 L916.40,393.75 L917.07,394.04 L917.66,394.37 L918.17,394.72 L918.55,395.12 L918.80,395.56 L918.92,396.05 L918.90,396.58 L918.77,397.16 L918.52,397.78 L918.20,398.42 L917.84,399.08 L917.46,399.74 L917.10,400.40 L916.80,401.04 L916.58,401.65 L916.47,402.22 L916.48,402.74 L916.63,403.22 L916.92,403.65 L917.33,404.04 L917.86,404.38 L918.48,404.70 L919.16,404.99 L919.86,405.27 L920.57,405.55 L921.23,405.85 L921.83,406.17 L922.33,406.53 L922.70,406.93 L922.95,407.37 L923.06,407.86 L923.04,408.40 L922.90,408.98 L922.65,409.60 L922.33,410.24 L921.97,410.90 L921.59,411.57 L921.23,412.22 L920.93,412.86 L920.71,413.46 L920.61,414.03 L920.63,414.56 L920.78,415.03 L921.07,415.46 L921.49,415.84 L922.02,416.19 L922.64,416.50 L923.33,416.79 L924.03,417.08 L924.74,417.36 L925.40,417.66 L925.99,417.98 L926.48,418.34" fill="none" stroke="#b9708f" stroke-width="1.1"/>
<path d="M924.60,352.00 L923.96,352.32 L923.35,352.65 L922.80,353.00 L922.34,353.38 L921.98,353.79 L921.73,354.24 L921.61,354.73 L921.61,355.27 L921.72,355.84 L921.92,356.44 L922.19,357.07 L922.49,357.71 L922.81,358.35 L923.11,358.98 L923.36,359.60 L923.53,360.19 L923.60,360.75 L923.56,361.27 L923.40,361.75 L923.12,362.19 L922.72,362.59 L922.23,362.96 L921.66,363.30 L921.04,363.63 L920.39,363.95 L919.76,364.27 L919.17,364.60 L918.64,364.96 L918.21,365.35 L917.89,365.78 L917.68,366.24 L917.60,366.75 L917.64,367.29 L917.78,367.88 L918.00,368.49 L918.29,369.12 L918.60,369.76 L918.92,370.40 L919.20,371.03 L919.43,371.64 L919.57,372.22 L919.61,372.77 L919.53,373.28 L919.33,373.75 L919.01,374.17 L918.58,374.56 L918.05,374.92 L917.46,375.26 L916.84,375.55 L916.17,376.00 L915.86,376.62 L915.66,377.37 L915.49,377.97 L915.43,378.53 L915.47,379.05 L915.64,379.53 L915.93,379.97 L916.33,380.37 L916.84,380.73 L917.41,381.06 L918.04,381.38 L918.69,381.69 L919.33,382.01 L919.93,382.33 L920.45,382.69 L920.89,383.07 L921.22,383.50 L921.42,383.96 L921.51,384.47 L921.47,385.02 L921.34,385.61 L921.12,386.22 L920.84,386.86 L920.53,387.51 L920.22,388.15 L919.95,388.79 L919.73,389.40 L919.61,389.99 L919.58,390.53 L919.68,391.04 L919.89,391.50 L920.23,391.92 L920.67,392.30 L921.21,392.65 L921.81,392.98 L922.45,393.29 L923.10,393.60 L923.72,393.92 L924.30,394.26 L924.79,394.62 L925.18,395.02 L925.46,395.46 L925.62,395.95 L925.66,396.47 L925.58,397.04 L925.41,397.64 L925.16,398.26 L924.87,398.91" fill="none" stroke="#7275b0" stroke-width="1.1"/>
<path d="M924.60,352.00 L923.96,352.32 L923.35,352.65 L922.80,353.00 L922.34,353.38 L921.98,353.79 L921.73,354.24 L921.61,354.73 L921.61,355.27 L921.72,355.84 L921.92,356.44 L922.19,357.07" fill="none" stroke="#648a4c" stroke-width="1.1"/>
<path d="M923.10,393.60 L923.72,393.92 L924.30,394.26 L924.79,394.62 L925.18,395.02 L925.46,395.46 L925.62,395.95 L925.66,396.47 L925.58,397.04 L925.41,397.64 L925.16,398.26 L924.87,398.91" fill="none" stroke="#648a4c" stroke-width="1.1"/>
<path d="M922.80,351.39 L922.84,351.94 L922.99,352.53 L923.22,353.14 L923.51,353.77 L923.82,354.41 L924.14,355.05 L924.42,355.68 L924.64,356.29 L924.77,356.87 L924.80,357.41 L924.71,357.92 L924.50,358.38 L924.17,358.81 L923.73,359.19 L923.21,359.55 L922.61,359.88 L921.98,360.20 L921.33,360.52 L920.71,360.85 L920.15,361.19 L919.66,361.56 L919.27,361.96 L918.99,362.40 L918.84,362.89 L918.80,363.41 L918.88,363.97 L919.06,364.57 L919.31,365.19 L919.61,365.82 L919.93,366.46 L920.24,367.10 L920.50,367.73 L920.69,368.33 L920.80,368.90 L920.79,369.43 L920.66,369.92 L920.41,370.37 L920.04,370.78 L919.57,371.16 L919.02,371.50 L918.41,371.83 L917.77,372.15 L917.13,372.47 L916.53,372.80 L915.98,373.15 L915.52,373.53 L915.17,373.95 L914.93,374.40 L914.74,375.20 L914.73,376.01 L915.21,376.74 L915.80,377.32 L916.40,377.65 L917.04,377.96 L917.69,378.27 L918.32,378.59 L918.89,378.93 L919.39,379.29 L919.78,379.69 L920.06,380.13 L920.22,380.61 L920.26,381.14 L920.19,381.70 L920.02,382.30 L919.77,382.93 L919.48,383.57 L919.16,384.22 L918.87,384.86 L918.61,385.49 L918.43,386.09 L918.34,386.66 L918.36,387.19 L918.50,387.68 L918.76,388.13 L919.14,388.53 L919.62,388.90 L920.19,389.24 L920.81,389.56 L921.45,389.87 L922.10,390.19 L922.70,390.51 L923.25,390.86 L923.71,391.24 L924.06,391.65 L924.29,392.11 L924.40,392.61 L924.40,393.15 L924.28,393.73 L924.08,394.34 L923.81,394.97 L923.51,395.62 L923.20,396.26 L922.91,396.90 L922.68,397.52 L922.53,398.11 L922.48,398.67 L922.55,399.18 L922.74,399.65" fill="none" stroke="#b9708f" stroke-width="1.1"/>
<path d="M927.50,353.00 L927.00,353.50 L926.54,354.00 L926.13,354.50 L925.81,355.00 L925.60,355.50 L925.50,356.00 L925.54,356.50 L925.69,357.00 L925.96,357.50 L926.32,358.00 L926.76,358.50 L927.25,359.00 L927.75,359.50 L928.24,360.00 L928.68,360.50 L929.04,361.00 L929.31,361.50 L929.46,362.00 L929.50,362.50 L929.40,363.00 L929.19,363.50 L928.87,364.00 L928.46,364.50 L928.00,365.00 L927.50,365.50 L927.00,366.00 L926.54,366.50 L926.13,367.00 L925.81,367.50 L925.60,368.00 L925.50,368.50 L925.54,369.00 L925.69,369.50 L925.96,370.00 L926.32,370.50 L926.76,371.00 L927.25,371.50 L927.75,372.00 L928.24,372.50 L928.68,373.00 L929.04,373.50 L929.31,374.00 L929.46,374.50 L929.50,375.00 L929.40,375.50 L929.19,376.00 L928.87,376.50 L928.46,377.00 L928.00,377.50 L927.50,378.00 L927.00,378.50 L926.54,379.00 L926.13,379.50 L925.81,380.00 L925.60,380.50 L925.50,381.00 L925.54,381.50 L925.69,382.00 L925.96,382.50 L926.32,383.00 L926.76,383.50 L927.25,384.00 L927.75,384.50 L928.24,385.00 L928.68,385.50 L929.04,386.00 L929.31,386.50 L929.46,387.00 L929.50,387.50 L929.40,388.00 L929.19,388.50 L928.87,389.00 L928.46,389.50 L928.00,390.00 L927.50,390.50 L927.00,391.00 L926.54,391.50 L926.13,392.00 L925.81,392.50 L925.60,393.00 L925.50,393.50 L925.54,394.00 L925.69,394.50 L925.96,395.00 L926.32,395.50 L926.76,396.00 L927.25,396.50 L927.75,397.00 L928.24,397.50 L928.68,398.00 L929.04,398.50 L929.31,399.00" fill="none" stroke="#7275b0" stroke-width="1.1"/>
<path d="M927.50,353.00 L927.00,353.50 L926.54,354.00 L926.13,354.50 L925.81,355.00 L925.60,355.50 L925.50,356.00 L925.54,356.50 L925.69,357.00 L925.96,357.50 L926.32,358.00 L926.76,358.50" fill="none" stroke="#648a4c" stroke-width="1.1"/>
<path d="M925.50,393.50 L925.54,394.00 L925.69,394.50 L925.96,395.00 L926.32,395.50 L926.76,396.00 L927.25,396.50 L927.75,397.00 L928.24,397.50 L928.68,398.00 L929.04,398.50 L929.31,399.00" fill="none" stroke="#648a4c" stroke-width="1.1"/>
<path d="M925.60,353.00 L925.81,353.50 L926.13,354.00 L926.54,354.50 L927.00,355.00 L927.50,355.50 L928.00,356.00 L928.46,356.50 L928.87,357.00 L929.19,357.50 L929.40,358.00 L929.50,358.50 L929.46,359.00 L929.31,359.50 L929.04,360.00 L928.68,360.50 L928.24,361.00 L927.75,361.50 L927.25,362.00 L926.76,362.50 L926.32,363.00 L925.96,363.50 L925.69,364.00 L925.54,364.50 L925.50,365.00 L925.60,365.50 L925.81,366.00 L926.13,366.50 L926.54,367.00 L927.00,367.50 L927.50,368.00 L928.00,368.50 L928.46,369.00 L928.87,369.50 L929.19,370.00 L929.40,370.50 L929.50,371.00 L929.46,371.50 L929.31,372.00 L929.04,372.50 L928.68,373.00 L928.24,373.50 L927.75,374.00 L927.25,374.50 L926.76,375.00 L926.32,375.50 L925.96,376.00 L925.69,376.50 L925.54,377.00 L925.50,377.50 L925.60,378.00 L925.81,378.50 L926.13,379.00 L926.54,379.50 L927.00,380.00 L927.50,380.50 L928.00,381.00 L928.46,381.50 L928.87,382.00 L929.19,382.50 L929.40,383.00 L929.50,383.50 L929.46,384.00 L929.31,384.50 L929.04,385.00 L928.68,385.50 L928.24,386.00 L927.75,386.50 L927.25,387.00 L926.76,387.50 L926.32,388.00 L925.96,388.50 L925.69,389.00 L925.54,389.50 L925.50,390.00 L925.60,390.50 L925.81,391.00 L926.13,391.50 L926.54,392.00 L927.00,392.50 L927.50,393.00 L928.00,393.50 L928.46,394.00 L928.87,394.50 L929.19,395.00 L929.40,395.50 L929.50,396.00 L929.46,396.50 L929.31,397.00 L929.04,397.50 L928.68,398.00 L928.24,398.50 L927.75,399.00" fill="none" stroke="#b9708f" stroke-width="1.1"/>
<path d="M933.00,353.00 L932.52,353.52 L932.08,354.04 L931.70,354.56 L931.40,355.07 L931.21,355.58 L931.14,356.09 L931.19,356.59 L931.37,357.08 L931.66,357.57 L932.05,358.05 L932.51,358.53 L933.02,359.01 L933.54,359.49 L934.05,359.97 L934.51,360.45 L934.89,360.93 L935.18,361.42 L935.36,361.91 L935.41,362.41 L935.33,362.92 L935.14,363.43 L934.84,363.94 L934.45,364.46 L934.01,364.98 L933.53,365.50 L933.06,366.02 L932.61,366.54 L932.23,367.06 L931.94,367.57 L931.75,368.08 L931.68,368.59 L931.74,369.09 L931.92,369.58 L932.21,370.07 L932.60,370.55 L933.06,371.03 L933.57,371.51 L934.09,371.99 L934.60,372.47 L935.06,372.95 L935.44,373.43 L935.73,373.92 L935.90,374.41 L935.95,374.91 L935.87,375.42 L935.68,375.93 L935.37,376.44 L934.99,376.96 L934.54,377.48 L934.06,378.00 L933.59,378.52 L933.15,379.04 L932.77,379.56 L932.47,380.07 L932.29,380.58 L932.22,381.09 L932.28,381.59 L932.46,382.08 L932.76,382.57 L933.15,383.05 L933.62,383.53 L934.13,384.01 L934.65,384.49 L935.16,384.97 L935.61,385.45 L935.99,385.93 L936.28,386.42 L936.45,386.91 L936.49,387.41 L936.41,387.92 L936.21,388.43 L935.91,388.94 L935.52,389.46 L935.07,389.98 L934.59,390.50 L934.12,391.02 L933.68,391.54 L933.30,392.06 L933.01,392.57 L932.83,393.08 L932.76,393.59 L932.83,394.09 L933.01,394.58 L933.31,395.07 L933.71,395.55 L934.17,396.03 L934.68,396.51 L935.20,396.99 L935.71,397.47 L936.17,397.95 L936.54,398.43 L936.83,398.92" fill="none" stroke="#7275b0" stroke-width="1.1"/>
<path d="M933.00,353.00 L932.52,353.52 L932.08,354.04 L931.70,354.56 L931.40,355.07 L931.21,355.58 L931.14,356.09 L931.19,356.59 L931.37,357.08 L931.66,357.57 L932.05,358.05 L932.51,358.53" fill="none" stroke="#648a4c" stroke-width="1.1"/>
<path d="M932.76,393.59 L932.83,394.09 L933.01,394.58 L933.31,395.07 L933.71,395.55 L934.17,396.03 L934.68,396.51 L935.20,396.99 L935.71,397.47 L936.17,397.95 L936.54,398.43 L936.83,398.92" fill="none" stroke="#648a4c" stroke-width="1.1"/>
<path d="M931.10,353.08 L931.33,353.57 L931.68,354.06 L932.10,354.54 L932.59,355.02 L933.11,355.50 L933.63,355.98 L934.12,356.46 L934.54,356.94 L934.88,357.43 L935.12,357.92 L935.23,358.41 L935.22,358.91 L935.09,359.42 L934.84,359.93 L934.49,360.45 L934.08,360.97 L933.61,361.49 L933.13,362.01 L932.67,362.53 L932.25,363.05 L931.91,363.57 L931.67,364.08 L931.54,364.59 L931.53,365.09 L931.65,365.58 L931.88,366.07 L932.23,366.56 L932.66,367.04 L933.15,367.52 L933.67,368.00 L934.19,368.48 L934.67,368.96 L935.10,369.44 L935.43,369.93 L935.67,370.42 L935.78,370.91 L935.76,371.41 L935.63,371.92 L935.38,372.43 L935.03,372.95 L934.61,373.47 L934.14,373.99 L933.66,374.51 L933.20,375.03 L932.79,375.55 L932.45,376.07 L932.20,376.58 L932.08,377.09 L932.07,377.59 L932.19,378.08 L932.43,378.57 L932.78,379.06 L933.21,379.54 L933.70,380.02 L934.22,380.50 L934.74,380.98 L935.23,381.46 L935.65,381.94 L935.98,382.43 L936.21,382.92 L936.32,383.41 L936.30,383.91 L936.16,384.42 L935.91,384.93 L935.56,385.45 L935.14,385.97 L934.68,386.49 L934.20,387.01 L933.73,387.53 L933.32,388.05 L932.98,388.57 L932.74,389.08 L932.62,389.59 L932.62,390.09 L932.74,390.58 L932.98,391.07 L933.33,391.56 L933.77,392.04 L934.26,392.52 L934.78,393.00 L935.29,393.48 L935.78,393.96 L936.20,394.44 L936.53,394.93 L936.76,395.42 L936.87,395.91 L936.85,396.42 L936.70,396.92 L936.45,397.43 L936.10,397.95 L935.67,398.47 L935.21,398.99" fill="none" stroke="#b9708f" stroke-width="1.1"/>
<path d="M941.70,352.50 L941.15,352.95 L940.63,353.39 L940.17,353.85 L939.80,354.32 L939.53,354.79 L939.39,355.28 L939.37,355.79 L939.47,356.30 L939.69,356.83 L940.01,357.38 L940.40,357.92 L940.83,358.48 L941.28,359.03 L941.71,359.58 L942.09,360.13 L942.39,360.67 L942.59,361.20 L942.68,361.71 L942.64,362.22 L942.48,362.70 L942.20,363.18 L941.81,363.64 L941.34,364.10 L940.82,364.55 L940.26,364.99 L939.71,365.44 L939.20,365.89 L938.75,366.35 L938.40,366.81 L938.15,367.29 L938.02,367.78 L938.02,368.29 L938.14,368.81 L938.38,369.34 L938.71,369.88 L939.10,370.43 L939.54,370.98 L939.99,371.54 L940.41,372.09 L940.78,372.64 L941.07,373.18 L941.26,373.70 L941.33,374.22 L941.27,374.72 L941.09,375.20 L940.79,375.67 L940.39,376.14 L939.91,376.59 L939.38,377.04 L938.82,377.48 L938.28,377.93 L937.77,378.38 L937.34,378.84 L937.00,379.31 L936.77,379.79" fill="none" stroke="#7275b0" stroke-width="1.1"/>
<path d="M939.81,352.29 L939.97,352.82 L940.23,353.35 L940.59,353.90 L941.00,354.45 L941.44,355.00 L941.88,355.56 L942.29,356.11 L942.64,356.65 L942.90,357.18 L943.05,357.71 L943.09,358.22 L942.99,358.71 L942.77,359.19 L942.44,359.66 L942.01,360.12 L941.51,360.58 L940.97,361.02 L940.42,361.47 L939.88,361.91 L939.39,362.37 L938.98,362.83 L938.67,363.30 L938.48,363.79 L938.41,364.28 L938.47,364.80 L938.65,365.32 L938.93,365.86 L939.29,366.40 L939.71,366.96 L940.15,367.51 L940.59,368.06 L940.99,368.61 L941.33,369.16 L941.58,369.69 L941.71,370.21 L941.72,370.72 L941.61,371.21 L941.38,371.69 L941.03,372.16 L940.59,372.62 L940.08,373.07 L939.53,373.51 L938.98,373.96 L938.45,374.41 L937.97,374.86 L937.58,375.32 L937.28,375.80 L937.11,376.28 L937.06,376.79 L937.13,377.30 L937.33,377.83 L937.62,378.36 L937.99,378.91 L938.42,379.46 L938.86,380.02" fill="none" stroke="#648a4c" stroke-width="1.1"/>
<path d="M948.90,352.50 L948.35,352.95 L947.83,353.40 L947.38,353.86 L947.01,354.33 L946.75,354.81 L946.61,355.30 L946.59,355.80 L946.70,356.32 L946.92,356.84 L947.24,357.38 L947.63,357.93 L948.07,358.48 L948.52,359.03 L948.95,359.58 L949.33,360.12 L949.64,360.66 L949.85,361.19 L949.94,361.70 L949.91,362.20 L949.75,362.69 L949.47,363.17 L949.09,363.64 L948.63,364.09 L948.10,364.54 L947.55,364.99 L947.01,365.44 L946.50,365.90 L946.05,366.35 L945.69,366.82 L945.45,367.30 L945.32,367.80 L945.32,368.30 L945.45,368.82 L945.68,369.35 L946.01,369.89 L946.41,370.43 L946.85,370.98 L947.30,371.54 L947.73,372.08" fill="none" stroke="#7275b0" stroke-width="1.1"/>
<path d="M947.01,352.31 L947.17,352.83 L947.44,353.36 L947.79,353.90 L948.21,354.45 L948.66,355.00 L949.10,355.55 L949.52,356.10 L949.87,356.64 L950.13,357.17 L950.29,357.69 L950.32,358.20 L950.23,358.70 L950.02,359.18 L949.69,359.65 L949.27,360.12 L948.77,360.57 L948.23,361.02 L947.68,361.47 L947.15,361.92 L946.66,362.38 L946.26,362.84 L945.95,363.31 L945.76,363.80 L945.69,364.30 L945.75,364.81 L945.92,365.33 L946.21,365.87 L946.57,366.41 L946.99,366.96 L947.44,367.51 L947.88,368.06 L948.29,368.61 L948.63,369.15 L948.88,369.68 L949.02,370.20 L949.04,370.70 L948.94,371.20 L948.71,371.68 L948.37,372.15" fill="none" stroke="#648a4c" stroke-width="1.1"/>
<path d="M955.50,352.50 L954.97,352.97 L954.48,353.44 L954.04,353.92 L953.69,354.40 L953.45,354.88 L953.33,355.38 L953.33,355.88 L953.45,356.39 L953.69,356.91 L954.03,357.43 L954.44,357.96 L954.90,358.49 L955.37,359.02 L955.82,359.55 L956.23,360.07 L956.56,360.59 L956.80,361.11 L956.92,361.62 L956.92,362.12 L956.79,362.61 L956.54,363.10 L956.19,363.58 L955.75,364.06 L955.25,364.53 L954.72,365.00 L954.19,365.47 L953.70,365.94 L953.27,366.42 L952.92,366.90 L952.68,367.38 L952.57,367.88 L952.58,368.38 L952.71,368.89" fill="none" stroke="#7275b0" stroke-width="1.1"/>
<path d="M953.60,352.38 L953.78,352.90 L954.07,353.42 L954.45,353.94 L954.89,354.47 L955.35,355.00 L955.82,355.53 L956.26,356.06 L956.63,356.58 L956.92,357.10 L957.10,357.62 L957.16,358.12 L957.10,358.62 L956.91,359.11 L956.61,359.59 L956.21,360.07 L955.74,360.54 L955.22,361.01 L954.69,361.48 L954.17,361.95 L953.71,362.43 L953.31,362.91 L953.02,363.39 L952.84,363.88 L952.78,364.38 L952.85,364.89 L953.04,365.40 L953.33,365.92 L953.71,366.44 L954.15,366.97 L954.62,367.50 L955.08,368.03 L955.52,368.56 L955.89,369.08" fill="none" stroke="#648a4c" stroke-width="1.1"/>
<path d="M962.00,352.50 L961.47,352.97 L960.97,353.44 L960.53,353.91 L960.18,354.39 L959.94,354.88 L959.81,355.37 L959.82,355.87 L959.94,356.38 L960.18,356.90 L960.51,357.42 L960.92,357.95 L961.38,358.48 L961.84,359.02 L962.30,359.55 L962.70,360.08 L963.03,360.60 L963.26,361.12 L963.38,361.63 L963.38,362.13 L963.25,362.62 L963.00,363.11 L962.64,363.59 L962.20,364.06 L961.70,364.53 L961.17,365.00 L960.64,365.47 L960.14,365.94 L959.71,366.41 L959.36,366.89 L959.12,367.38 L959.01,367.87" fill="none" stroke="#7275b0" stroke-width="1.1"/>
<path d="M960.10,352.38 L960.28,352.89 L960.57,353.41 L960.94,353.94 L961.38,354.47 L961.84,355.00 L962.31,355.53 L962.74,356.06 L963.11,356.59 L963.40,357.11 L963.58,357.62 L963.64,358.13 L963.57,358.63 L963.38,359.12 L963.08,359.60 L962.68,360.07 L962.20,360.55 L961.68,361.02 L961.15,361.48 L960.63,361.95 L960.16,362.42 L959.77,362.90 L959.47,363.38 L959.29,363.87 L959.24,364.37 L959.30,364.88 L959.49,365.39 L959.78,365.91 L960.16,366.44 L960.60,366.97 L961.06,367.50 L961.53,368.03" fill="none" stroke="#648a4c" stroke-width="1.1"/>
<path d="M968.70,352.50 L968.20,353.00 L967.74,353.50 L967.33,354.00 L967.01,354.50 L966.80,355.00 L966.70,355.50 L966.74,356.00 L966.89,356.50 L967.16,357.00 L967.52,357.50 L967.96,358.00 L968.45,358.50 L968.95,359.00 L969.44,359.50 L969.88,360.00 L970.24,360.50 L970.51,361.00 L970.66,361.50 L970.70,362.00 L970.60,362.50 L970.39,363.00 L970.07,363.50 L969.66,364.00 L969.20,364.50 L968.70,365.00 L968.20,365.50 L967.74,366.00 L967.33,366.50 L967.01,367.00" fill="none" stroke="#7275b0" stroke-width="1.1"/>
<path d="M966.80,352.50 L967.01,353.00 L967.33,353.50 L967.74,354.00 L968.20,354.50 L968.70,355.00 L969.20,355.50 L969.66,356.00 L970.07,356.50 L970.39,357.00 L970.60,357.50 L970.70,358.00 L970.66,358.50 L970.51,359.00 L970.24,359.50 L969.88,360.00 L969.44,360.50 L968.95,361.00 L968.45,361.50 L967.96,362.00 L967.52,362.50 L967.16,363.00 L966.89,363.50 L966.74,364.00 L966.70,364.50 L966.80,365.00 L967.01,365.50 L967.33,366.00 L967.74,366.50 L968.20,367.00" fill="none" stroke="#648a4c" stroke-width="1.1"/>
<path d="M975.40,352.50 L974.90,353.00 L974.44,353.50 L974.03,354.00 L973.71,354.50 L973.50,355.00 L973.40,355.50 L973.44,356.00 L973.59,356.50 L973.86,357.00 L974.22,357.50 L974.66,358.00 L975.15,358.50 L975.65,359.00 L976.14,359.50 L976.58,360.00 L976.94,360.50 L977.21,361.00 L977.36,361.50 L977.40,362.00 L977.30,362.50 L977.09,363.00 L976.77,363.50 L976.36,364.00 L975.90,364.50 L975.40,365.00 L974.90,365.50 L974.44,366.00" fill="none" stroke="#648a4c" stroke-width="1.1"/>
<path d="M973.50,352.50 L973.71,353.00 L974.03,353.50 L974.44,354.00 L974.90,354.50 L975.40,355.00 L975.90,355.50 L976.36,356.00 L976.77,356.50 L977.09,357.00 L977.30,357.50 L977.40,358.00 L977.36,358.50 L977.21,359.00 L976.94,359.50 L976.58,360.00 L976.14,360.50 L975.65,361.00 L975.15,361.50 L974.66,362.00 L974.22,362.50 L973.86,363.00 L973.59,363.50 L973.44,364.00 L973.40,364.50 L973.50,365.00 L973.71,365.50 L974.03,366.00" fill="none" stroke="#7275b0" stroke-width="1.1"/>
<path d="M986.80,352.50 L986.30,353.00 L985.84,353.50 L985.43,354.00 L985.11,354.50 L984.90,355.00 L984.80,355.50 L984.84,356.00 L984.99,356.50 L985.26,357.00 L985.62,357.50 L986.06,358.00 L986.55,358.50 L987.05,359.00 L987.54,359.50 L987.98,360.00 L988.34,360.50 L988.61,361.00 L988.76,361.50 L988.80,362.00 L988.70,362.50 L988.49,363.00 L988.17,363.50 L987.76,364.00 L987.30,364.50 L986.80,365.00" fill="none" stroke="#648a4c" stroke-width="1.1"/>
<path d="M984.90,352.50 L985.11,353.00 L985.43,353.50 L985.84,354.00 L986.30,354.50 L986.80,355.00 L987.30,355.50 L987.76,356.00 L988.17,356.50 L988.49,357.00 L988.70,357.50 L988.80,358.00 L988.76,358.50 L988.61,359.00 L988.34,359.50 L987.98,360.00 L987.54,360.50 L987.05,361.00 L986.55,361.50 L986.06,362.00 L985.62,362.50 L985.26,363.00 L984.99,363.50 L984.84,364.00 L984.80,364.50 L984.90,365.00" fill="none" stroke="#7275b0" stroke-width="1.1"/>
<path d="M997.00,352.50 L996.50,353.00 L996.04,353.50 L995.63,354.00 L995.31,354.50 L995.10,355.00 L995.00,355.50 L995.04,356.00 L995.19,356.50 L995.46,357.00 L995.82,357.50 L996.26,358.00 L996.75,358.50 L997.25,359.00 L997.74,359.50 L998.18,360.00 L998.54,360.50 L998.81,361.00 L998.96,361.50 L999.00,362.00 L998.90,362.50 L998.69,363.00 L998.37,363.50 L997.96,364.00 L997.50,364.50 L997.00,365.00 L996.50,365.50 L996.04,366.00 L995.63,366.50 L995.31,367.00" fill="none" stroke="#648a4c" stroke-width="1.1"/>
<path d="M995.10,352.50 L995.31,353.00 L995.63,353.50 L996.04,354.00 L996.50,354.50 L997.00,355.00 L997.50,355.50 L997.96,356.00 L998.37,356.50 L998.69,357.00 L998.90,357.50 L999.00,358.00 L998.96,358.50 L998.81,359.00 L998.54,359.50 L998.18,360.00 L997.74,360.50 L997.25,361.00 L996.75,361.50 L996.26,362.00 L995.82,362.50 L995.46,363.00 L995.19,363.50 L995.04,364.00 L995.00,364.50 L995.10,365.00 L995.31,365.50 L995.63,366.00 L996.04,366.50 L996.50,367.00" fill="none" stroke="#7275b0" stroke-width="1.1"/>
<path d="M946.70,399.50 L947.02,398.90 L947.32,398.31 L947.56,397.73 L947.72,397.17 L947.79,396.64 L947.74,396.13 L947.59,395.64 L947.32,395.19 L946.96,394.75 L946.51,394.34 L945.99,393.94 L945.44,393.55 L944.88,393.17 L944.33,392.77 L943.84,392.37 L943.41,391.95 L943.08,391.51 L942.85,391.05 L942.73,390.55 L942.72,390.04 L942.82,389.49 L943.01,388.93 L943.27,388.34 L943.58,387.75 L943.90,387.15 L944.22,386.55 L944.50,385.97 L944.72,385.39 L944.85,384.84 L944.88,384.31 L944.80,383.81 L944.61,383.34 L944.31,382.89 L943.92,382.46 L943.44,382.05 L942.91,381.66 L942.36,381.27 L941.80,380.88 L941.27,380.49 L940.79,380.08 L940.39,379.66 L940.09,379.21 L939.89,378.73 L939.81,378.23 L939.84,377.71 L939.97,377.15 L940.18,376.58 L940.46,375.99 L940.78,375.40 L941.10,374.80 L941.41,374.21 L941.67,373.62 L941.87,373.06 L941.97,372.51 L941.96,371.99 L941.85,371.50 L941.62,371.03 L941.29,370.59 L940.87,370.17 L940.37,369.77 L939.83,369.37 L939.27,368.99 L938.72,368.60 L938.20,368.20 L937.75,367.79 L937.38,367.36 L937.11,366.90 L936.95,366.42" fill="none" stroke="#7275b0" stroke-width="1.1"/>
<path d="M948.37,399.10 L948.06,398.66 L947.65,398.23 L947.18,397.82 L946.64,397.43 L946.08,397.04 L945.53,396.66 L945.00,396.26 L944.53,395.85 L944.14,395.43 L943.84,394.98 L943.66,394.50 L943.58,394.00 L943.62,393.47 L943.76,392.91 L943.98,392.34 L944.26,391.75 L944.58,391.15 L944.90,390.56 L945.21,389.96 L945.47,389.38 L945.65,388.81 L945.75,388.27 L945.73,387.75 L945.61,387.26 L945.37,386.80 L945.03,386.36 L944.60,385.94 L944.11,385.54 L943.56,385.15 L943.00,384.76 L942.45,384.37 L941.94,383.97 L941.49,383.56 L941.13,383.13 L940.87,382.67 L940.72,382.18 L940.68,381.67 L940.75,381.13 L940.92,380.57 L941.16,379.99 L941.46,379.40 L941.78,378.80 L942.10,378.21 L942.39,377.62 L942.63,377.04 L942.79,376.48 L942.85,375.94 L942.80,375.44 L942.64,374.95 L942.37,374.50 L942.00,374.06 L941.55,373.65 L941.03,373.25 L940.48,372.87 L939.92,372.48 L939.38,372.09 L938.88,371.68 L938.46,371.26 L938.13,370.82 L937.90,370.36 L937.79,369.86 L937.79,369.34 L937.89,368.80 L938.08,368.23 L938.35,367.65 L938.65,367.05 L938.98,366.45 L939.30,365.86" fill="none" stroke="#648a4c" stroke-width="1.1"/>
<path d="M952.70,399.50 L952.99,398.89 L953.26,398.29 L953.47,397.71 L953.60,397.14 L953.65,396.61 L953.58,396.10 L953.41,395.63 L953.13,395.19 L952.76,394.77 L952.30,394.38 L951.77,394.01 L951.21,393.65 L950.63,393.30 L950.07,392.94 L949.55,392.57 L949.10,392.17 L948.74,391.76 L948.47,391.31 L948.31,390.83 L948.26,390.33 L948.32,389.79 L948.46,389.22 L948.68,388.63 L948.95,388.03 L949.24,387.42 L949.53,386.82 L949.79,386.22 L950.00,385.63 L950.12,385.07 L950.15,384.54 L950.08,384.04 L949.89,383.57 L949.60,383.13 L949.21,382.72 L948.74,382.34 L948.21,381.97 L947.65,381.61 L947.07,381.25 L946.51,380.89 L946.00,380.52 L945.56,380.12 L945.21,379.70 L944.95,379.25 L944.81,378.77 L944.77,378.26 L944.84,377.72 L945.00,377.15 L945.22,376.56 L945.49,375.96 L945.79,375.35 L946.08,374.74 L946.33,374.14 L946.52,373.56 L946.64,373.01 L946.66,372.48 L946.57,371.98 L946.37,371.51" fill="none" stroke="#648a4c" stroke-width="1.1"/>
<path d="M954.34,399.02 L954.02,398.59 L953.60,398.19 L953.11,397.81 L952.56,397.45 L951.99,397.09 L951.42,396.73 L950.87,396.37 L950.38,395.99 L949.97,395.59 L949.65,395.16 L949.43,394.70 L949.32,394.20 L949.32,393.68 L949.42,393.13 L949.60,392.55 L949.85,391.96 L950.13,391.35 L950.43,390.74 L950.71,390.14 L950.94,389.55 L951.11,388.97 L951.20,388.43 L951.18,387.91 L951.05,387.42 L950.82,386.97 L950.48,386.54 L950.05,386.14 L949.55,385.76 L949.00,385.40 L948.43,385.04 L947.86,384.69 L947.32,384.32 L946.83,383.94 L946.43,383.53 L946.12,383.10 L945.92,382.63 L945.83,382.14 L945.84,381.61 L945.95,381.06 L946.14,380.48 L946.39,379.88 L946.68,379.27 L946.97,378.66 L947.25,378.06 L947.48,377.47 L947.64,376.90 L947.71,376.36 L947.68,375.84 L947.54,375.36 L947.29,374.91 L946.94,374.49 L946.50,374.09 L945.99,373.72 L945.44,373.36 L944.86,373.00 L944.30,372.64 L943.76,372.27" fill="none" stroke="#7275b0" stroke-width="1.1"/>
<path d="M959.90,399.50 L960.15,398.86 L960.37,398.24 L960.54,397.63 L960.63,397.05 L960.63,396.51 L960.52,396.01 L960.30,395.54 L959.97,395.12 L959.55,394.73 L959.05,394.38 L958.48,394.05 L957.88,393.72 L957.27,393.41 L956.68,393.08 L956.14,392.74 L955.68,392.37 L955.30,391.97 L955.02,391.52 L954.86,391.04 L954.80,390.52 L954.84,389.96 L954.97,389.37 L955.17,388.75 L955.41,388.12 L955.66,387.48 L955.90,386.85 L956.10,386.23 L956.23,385.63 L956.28,385.07 L956.23,384.55 L956.07,384.06 L955.80,383.62 L955.42,383.22 L954.96,382.85 L954.42,382.50 L953.84,382.18 L953.23,381.86 L952.63,381.54 L952.06,381.20 L951.55,380.85 L951.12,380.47 L950.79,380.04 L950.57,379.58 L950.46,379.08 L950.45,378.54" fill="none" stroke="#648a4c" stroke-width="1.1"/>
<path d="M961.50,398.90 L961.14,398.49 L960.69,398.12 L960.16,397.77 L959.58,397.44 L958.97,397.13 L958.37,396.81 L957.79,396.48 L957.28,396.13 L956.84,395.74 L956.49,395.33 L956.26,394.87 L956.13,394.38 L956.11,393.84 L956.19,393.27 L956.34,392.66 L956.56,392.04 L956.81,391.40 L957.06,390.77 L957.29,390.14 L957.47,389.53 L957.57,388.94 L957.58,388.40 L957.49,387.89 L957.29,387.42 L956.98,386.99 L956.58,386.59 L956.08,386.23 L955.52,385.90 L954.93,385.58 L954.32,385.26 L953.73,384.94 L953.18,384.60 L952.70,384.23 L952.30,383.83 L952.01,383.40 L951.82,382.92 L951.75,382.41 L951.78,381.85 L951.90,381.27 L952.08,380.65 L952.32,380.02 L952.57,379.38 L952.81,378.75 L953.02,378.13 L953.17,377.53" fill="none" stroke="#7275b0" stroke-width="1.1"/>
<path d="M966.50,399.50 L966.71,398.86 L966.90,398.23 L967.04,397.62 L967.10,397.04 L967.08,396.51 L966.95,396.01 L966.72,395.56 L966.38,395.16 L965.95,394.80 L965.44,394.47 L964.88,394.16 L964.27,393.88 L963.65,393.60 L963.05,393.31 L962.49,393.00 L961.99,392.66 L961.58,392.29 L961.27,391.88 L961.06,391.42 L960.95,390.92 L960.94,390.37 L961.02,389.79 L961.17,389.18 L961.36,388.55 L961.58,387.90 L961.79,387.26 L961.97,386.64 L962.10,386.03 L962.14,385.46 L962.10,384.93 L961.95,384.45 L961.70,384.01 L961.35,383.61 L960.90,383.26 L960.38,382.93 L959.80,382.63 L959.19,382.35 L958.57,382.07 L957.98,381.78 L957.43,381.46" fill="none" stroke="#7275b0" stroke-width="1.1"/>
<path d="M968.07,398.82 L967.69,398.44 L967.23,398.09 L966.69,397.77 L966.10,397.48 L965.48,397.19 L964.87,396.91 L964.28,396.62 L963.75,396.30 L963.29,395.95 L962.92,395.56 L962.65,395.13 L962.48,394.65 L962.42,394.13 L962.46,393.56 L962.57,392.97 L962.74,392.34 L962.95,391.70 L963.16,391.06 L963.36,390.42 L963.52,389.81 L963.62,389.22 L963.62,388.67 L963.54,388.16 L963.34,387.69 L963.04,387.27 L962.65,386.89 L962.17,386.55 L961.62,386.24 L961.02,385.95 L960.40,385.67 L959.79,385.38 L959.22,385.08 L958.69,384.76 L958.25,384.40 L957.90,384.01 L957.65,383.56 L957.50,383.08 L957.46,382.55 L957.51,381.98 L957.64,381.37" fill="none" stroke="#648a4c" stroke-width="1.1"/>
<path d="M974.30,399.50 L974.49,398.84 L974.65,398.20 L974.76,397.58 L974.79,397.00 L974.74,396.46 L974.59,395.97 L974.32,395.53 L973.96,395.14 L973.50,394.79 L972.97,394.49 L972.37,394.21 L971.75,393.95 L971.11,393.69 L970.49,393.42 L969.92,393.13 L969.42,392.81 L969.01,392.44 L968.69,392.03 L968.48,391.57 L968.37,391.05 L968.36,390.49 L968.43,389.89 L968.57,389.26 L968.74,388.61 L968.93,387.95 L969.11,387.30 L969.25,386.66 L969.33,386.06 L969.33,385.49 L969.23,384.98 L969.03,384.51 L968.72,384.09 L968.31,383.72 L967.81,383.40 L967.25,383.11 L966.63,382.84" fill="none" stroke="#648a4c" stroke-width="1.1"/>
<path d="M981.60,399.50 L981.79,398.84 L981.95,398.20 L982.06,397.58 L982.09,397.00 L982.04,396.46 L981.89,395.97 L981.62,395.53 L981.26,395.14 L980.80,394.79 L980.27,394.49 L979.67,394.21 L979.05,393.95 L978.41,393.69 L977.79,393.42 L977.22,393.13 L976.72,392.81 L976.31,392.44 L975.99,392.03 L975.78,391.57 L975.67,391.05 L975.66,390.49 L975.73,389.89 L975.87,389.26 L976.04,388.61 L976.23,387.95 L976.41,387.30 L976.55,386.66 L976.63,386.06 L976.63,385.49 L976.53,384.98 L976.33,384.51 L976.02,384.09 L975.61,383.72 L975.11,383.40 L974.55,383.11 L973.93,382.84" fill="none" stroke="#648a4c" stroke-width="1.1"/>
<path d="M983.14,398.75 L982.74,398.38 L982.25,398.05 L981.69,397.76 L981.08,397.49 L980.45,397.23 L979.82,396.97 L979.22,396.69 L978.67,396.39 L978.20,396.06 L977.82,395.67 L977.54,395.24 L977.36,394.76 L977.29,394.23 L977.31,393.65 L977.41,393.04 L977.56,392.40 L977.75,391.74 L977.94,391.09 L978.11,390.44 L978.23,389.81 L978.28,389.22 L978.24,388.68 L978.10,388.18 L977.86,387.73 L977.52,387.33 L977.07,386.98 L976.55,386.66 L975.96,386.38 L975.34,386.12 L974.71,385.86 L974.08,385.60 L973.50,385.31 L972.99,384.99 L972.56,384.64 L972.22,384.23 L971.99,383.78" fill="none" stroke="#7275b0" stroke-width="1.1"/>
<path d="M992.40,399.50 L992.55,398.84 L992.68,398.20 L992.75,397.58 L992.76,397.01 L992.69,396.47 L992.52,396.00 L992.25,395.57 L991.88,395.20 L991.42,394.88 L990.89,394.60 L990.30,394.35 L989.67,394.13 L989.03,393.91 L988.41,393.68 L987.82,393.43 L987.29,393.15 L986.84,392.82 L986.48,392.45 L986.22,392.02 L986.06,391.53 L985.99,391.00 L986.01,390.42 L986.09,389.80 L986.22,389.15 L986.38,388.50 L986.53,387.84 L986.65,387.20 L986.72,386.59 L986.72,386.01 L986.64,385.48 L986.46,385.01 L986.18,384.59 L985.80,384.22" fill="none" stroke="#648a4c" stroke-width="1.1"/>
<path d="M993.90,398.67 L993.49,398.33 L992.99,398.03 L992.43,397.77 L991.82,397.53 L991.18,397.31 L990.55,397.08 L989.93,396.85 L989.37,396.58 L988.88,396.28 L988.47,395.94 L988.16,395.53 L987.95,395.08 L987.83,394.57 L987.80,394.01 L987.85,393.41 L987.96,392.78 L988.11,392.13 L988.26,391.47 L988.40,390.82 L988.50,390.19 L988.54,389.59 L988.51,389.04 L988.38,388.54 L988.15,388.09 L987.83,387.69 L987.41,387.35 L986.90,387.06 L986.34,386.80 L985.72,386.56 L985.08,386.34 L984.45,386.12 L983.84,385.88 L983.29,385.61" fill="none" stroke="#7275b0" stroke-width="1.1"/>
<path d="M1003.20,399.50 L1003.33,398.83 L1003.44,398.18 L1003.50,397.56 L1003.49,396.98 L1003.39,396.45 L1003.20,395.97 L1002.91,395.55 L1002.52,395.20 L1002.04,394.89 L1001.49,394.63 L1000.88,394.40 L1000.24,394.19 L999.59,393.99 L998.95,393.78 L998.36,393.54 L997.83,393.27 L997.38,392.95 L997.02,392.57 L996.76,392.14 L996.60,391.64 L996.53,391.10 L996.54,390.50 L996.62,389.87 L996.73,389.21 L996.87,388.54 L997.00,387.88 L997.09,387.23 L997.13,386.62 L997.09,386.05 L996.97,385.54 L996.75,385.08" fill="none" stroke="#648a4c" stroke-width="1.1"/>
<path d="M944.00,366.00 L943.71,366.65 L943.45,367.28 L943.24,367.89 L943.12,368.48 L943.10,369.02 L943.19,369.52 L943.40,369.98 L943.73,370.40 L944.16,370.77 L944.68,371.11 L945.28,371.43 L945.91,371.72 L946.56,372.02 L947.19,372.32 L947.78,372.64 L948.29,372.98 L948.71,373.36 L949.02,373.78 L949.22,374.24 L949.29,374.75 L949.26,375.30 L949.12,375.89 L948.91,376.50 L948.64,377.14 L948.35,377.79 L948.06,378.43 L947.81,379.07 L947.61,379.68 L947.50,380.25 L947.49,380.79 L947.60,381.29 L947.82,381.74 L948.16,382.15 L948.61,382.52" fill="none" stroke="#b9708f" stroke-width="1.1"/>
<path d="M952.00,364.00 L951.74,364.67 L951.50,365.32 L951.33,365.95 L951.23,366.54 L951.24,367.09 L951.36,367.59 L951.60,368.04 L951.96,368.44 L952.43,368.79 L952.98,369.10 L953.60,369.39 L954.25,369.66 L954.92,369.93 L955.57,370.20 L956.17,370.50 L956.69,370.83 L957.11,371.20 L957.43,371.62 L957.62,372.09 L957.70,372.61 L957.67,373.17 L957.54,373.78 L957.34,374.42 L957.09,375.08 L956.82,375.74 L956.57,376.41 L956.35,377.05 L956.20,377.67 L956.15,378.24 L956.20,378.77" fill="none" stroke="#b9708f" stroke-width="1.1"/>
<path d="M960.00,368.00 L959.68,368.64 L959.40,369.27 L959.17,369.88 L959.03,370.46 L958.99,371.00 L959.06,371.51 L959.26,371.98 L959.58,372.41 L960.01,372.80 L960.53,373.16 L961.12,373.49 L961.75,373.82 L962.39,374.14 L963.01,374.46 L963.58,374.81 L964.08,375.17 L964.48,375.57 L964.76,376.01 L964.92,376.49 L964.97,377.01 L964.89,377.57 L964.72,378.16 L964.48,378.77 L964.18,379.41 L963.86,380.05" fill="none" stroke="#b9708f" stroke-width="1.1"/>
<path d="M967.00,364.00 L966.73,364.65 L966.50,365.29 L966.31,365.91 L966.21,366.50 L966.21,367.04 L966.31,367.54 L966.53,367.99 L966.87,368.39 L967.31,368.75 L967.84,369.07 L968.44,369.36 L969.08,369.63 L969.73,369.90 L970.37,370.18 L970.97,370.47 L971.50,370.79 L971.94,371.15 L972.27,371.55 L972.50,372.00 L972.60,372.50 L972.60,373.04 L972.49,373.63 L972.31,374.24 L972.07,374.89 L971.81,375.54 L971.54,376.19" fill="none" stroke="#b9708f" stroke-width="1.1"/>
</svg></body></html>
